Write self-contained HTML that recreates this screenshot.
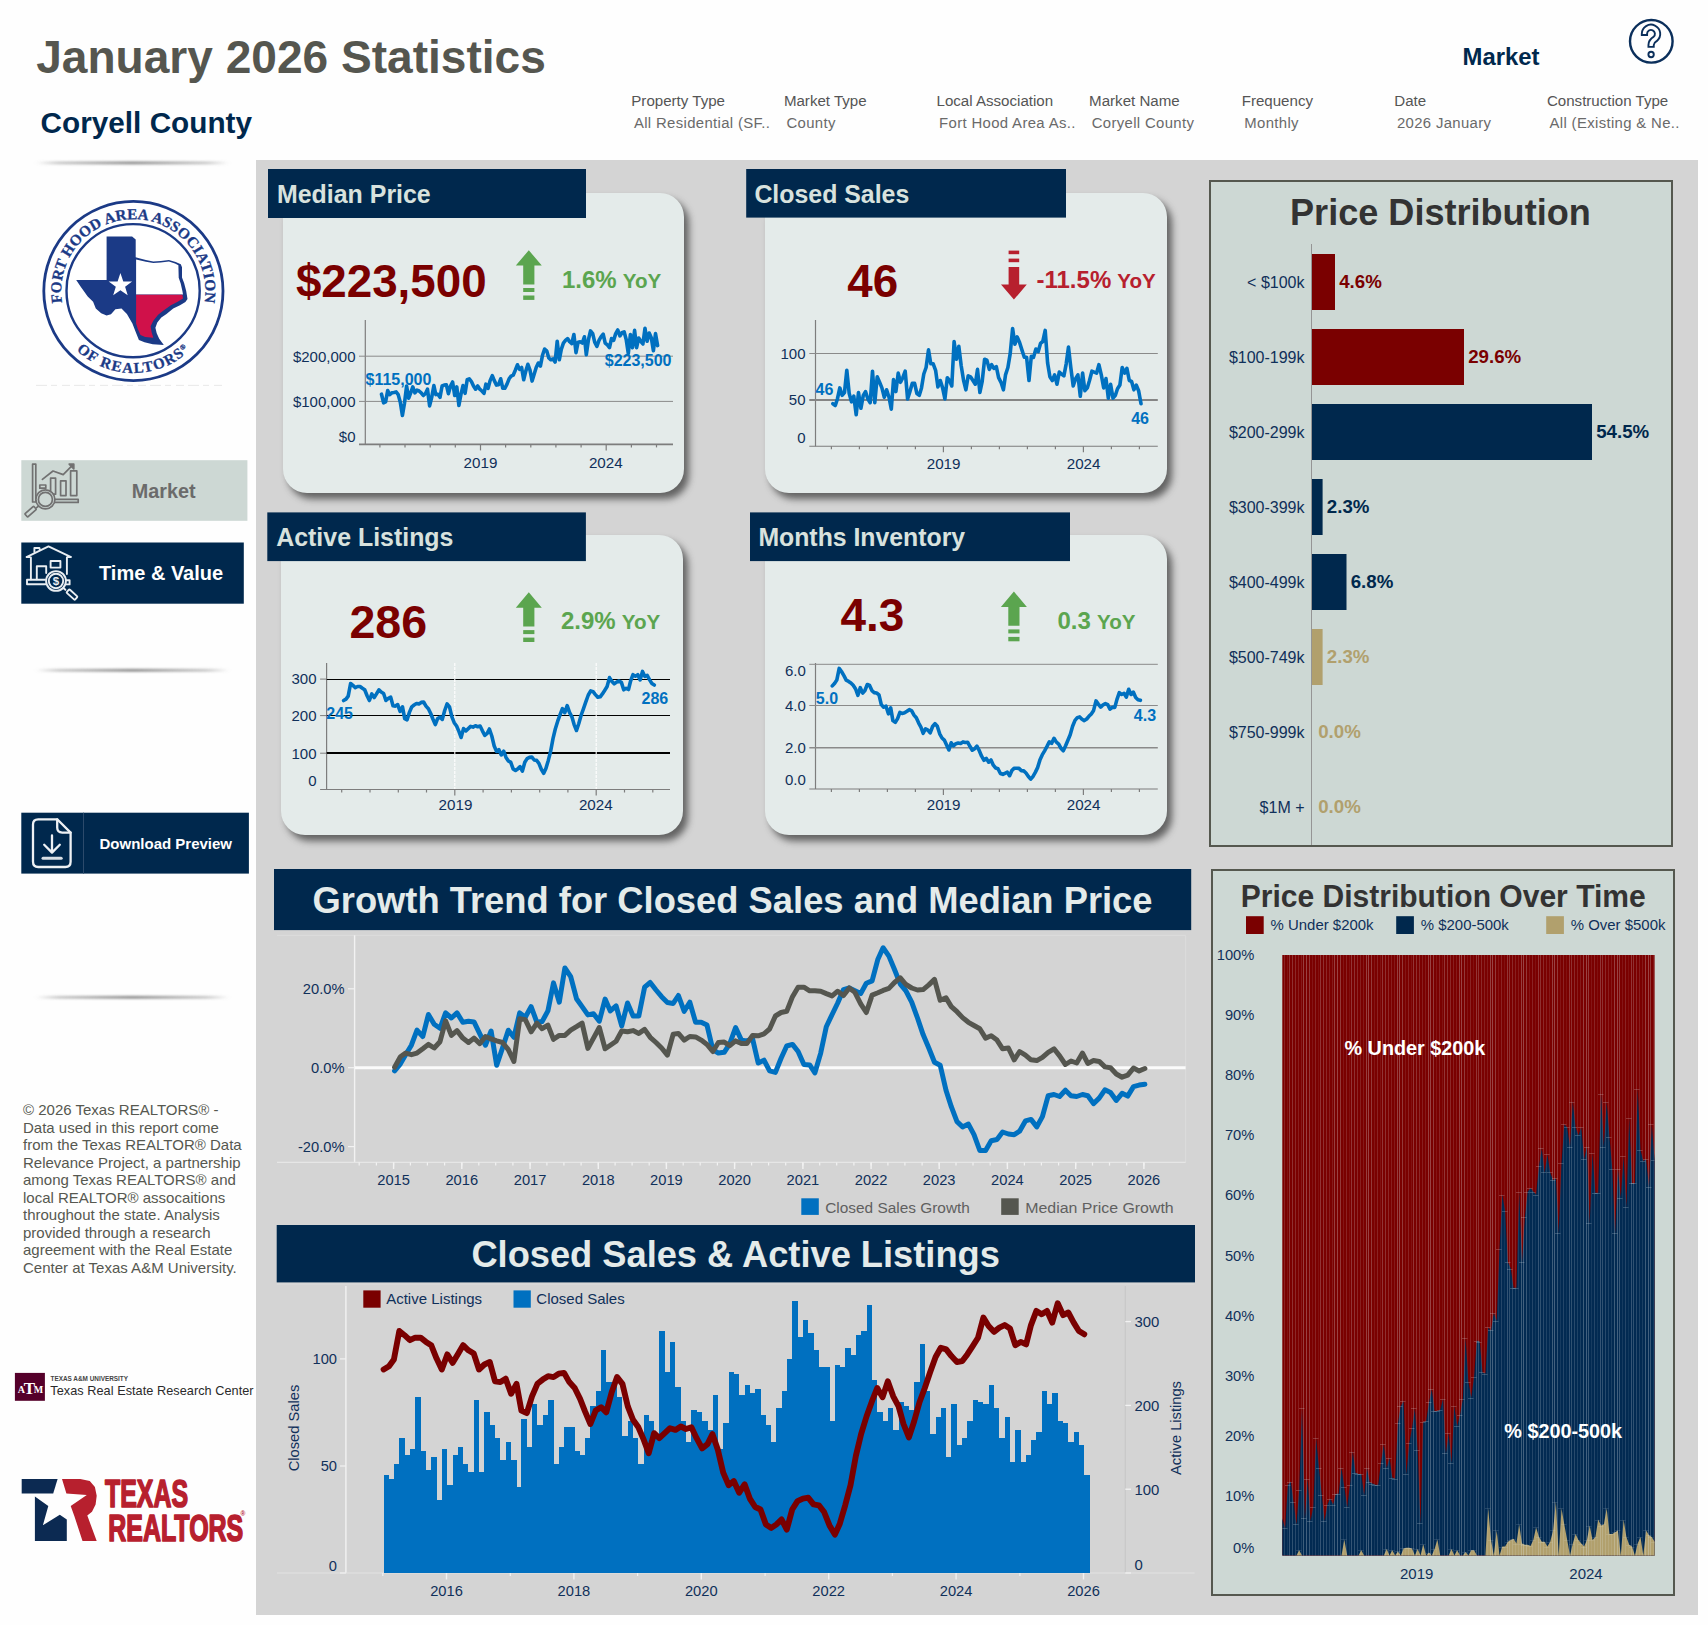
<!DOCTYPE html>
<html lang="en"><head><meta charset="utf-8"><title>January 2026 Statistics - Coryell County</title>
<style>
html,body{margin:0;padding:0;background:#fefefe;}
body{width:1708px;height:1625px;position:relative;overflow:hidden;font-family:"Liberation Sans",Arial,sans-serif;}
.abs{position:absolute;box-sizing:border-box;}
.bg{left:256px;top:160px;width:1442px;height:1455px;background:#d4d4d4;}
.card{background:#e4ebea;border-radius:24px;box-shadow:5px 6px 7px rgba(40,40,40,.66);}
.panel{background:#cdd8d4;border:2.5px solid #55584f;}
svg{position:absolute;left:0;top:0;}
svg text{font-family:"Liberation Sans",Arial,sans-serif;}
svg text.serif{font-family:"Liberation Serif","Times New Roman",serif;}
</style></head><body>
<div class="abs bg"></div>
<div class="abs card" style="left:283px;top:193px;width:401px;height:300px"></div>
<div class="abs card" style="left:765px;top:193px;width:402px;height:300px"></div>
<div class="abs card" style="left:281px;top:535px;width:402px;height:300px"></div>
<div class="abs card" style="left:765px;top:535px;width:402px;height:300px"></div>
<div class="abs panel" style="left:1209px;top:180px;width:464px;height:667px"></div>
<div class="abs panel" style="left:1211px;top:869px;width:464px;height:727px"></div>
<svg width="1708" height="1625" viewBox="0 0 1708 1625">
<defs><linearGradient id="sepg" x1="0" x2="1" y1="0" y2="0"><stop offset="0" stop-color="#8c8c8c" stop-opacity="0"/><stop offset="0.12" stop-color="#8c8c8c" stop-opacity="0.45"/><stop offset="0.5" stop-color="#8c8c8c" stop-opacity="0.95"/><stop offset="0.88" stop-color="#8c8c8c" stop-opacity="0.45"/><stop offset="1" stop-color="#8c8c8c" stop-opacity="0"/></linearGradient><filter id="sepb" x="-5%" y="-300%" width="110%" height="700%"><feGaussianBlur stdDeviation="2 1.3"/></filter></defs>
<text transform="translate(36.2,73.2) scale(0.987,1)" font-size="46.7" fill="#55564f" font-weight="bold" text-anchor="start" >January 2026 Statistics</text>
<text transform="translate(40.6,132.8) scale(1.008,1)" font-size="29.5" fill="#00284d" font-weight="bold" text-anchor="start" >Coryell County</text>
<text x="631.3" y="106.2" font-size="15.1" fill="#555">Property Type</text>
<text x="633.9" y="128.2" font-size="14.9" fill="#6a6a6a" letter-spacing="0.35">All Residential (SF..</text>
<text x="783.9" y="106.2" font-size="15.1" fill="#555">Market Type</text>
<text x="786.5" y="128.2" font-size="14.9" fill="#6a6a6a" letter-spacing="0.35">County</text>
<text x="936.5" y="106.2" font-size="15.1" fill="#555">Local Association</text>
<text x="939.1" y="128.2" font-size="14.9" fill="#6a6a6a" letter-spacing="0.35">Fort Hood Area As..</text>
<text x="1089.1" y="106.2" font-size="15.1" fill="#555">Market Name</text>
<text x="1091.7" y="128.2" font-size="14.9" fill="#6a6a6a" letter-spacing="0.35">Coryell County</text>
<text x="1241.7" y="106.2" font-size="15.1" fill="#555">Frequency</text>
<text x="1244.3" y="128.2" font-size="14.9" fill="#6a6a6a" letter-spacing="0.35">Monthly</text>
<text x="1394.3" y="106.2" font-size="15.1" fill="#555">Date</text>
<text x="1396.9" y="128.2" font-size="14.9" fill="#6a6a6a" letter-spacing="0.35">2026 January</text>
<text x="1546.9" y="106.2" font-size="15.1" fill="#555">Construction Type</text>
<text x="1549.5" y="128.2" font-size="14.9" fill="#6a6a6a" letter-spacing="0.35">All (Existing &amp; Ne..</text>
<text transform="translate(1462.5,65.3) scale(0.995,1)" font-size="24" fill="#00284d" font-weight="bold" text-anchor="start" >Market</text>
<circle cx="1651.3" cy="41.3" r="21.3" fill="none" stroke="#0b2f5b" stroke-width="2.4"/>
<path d="M1644.45 36 V33.85 A6.56 6.56 0 1 1 1655.2 38.9 Q1651.1 41.4 1651.1 45 V47.8" fill="none" stroke="#0b2f5b" stroke-width="7.2" stroke-linejoin="round"/>
<path d="M1644.45 34.1 V33.85 A6.56 6.56 0 1 1 1655.2 38.9 Q1651.1 41.4 1651.1 45 V45.9" fill="none" stroke="#fefefe" stroke-width="3.4" stroke-linejoin="round"/>
<circle cx="1651.1" cy="54.5" r="2.7" fill="none" stroke="#0b2f5b" stroke-width="1.9"/>
<rect x="36" y="161.4" width="193" height="3" fill="url(#sepg)" filter="url(#sepb)"/>
<rect x="36" y="668.8" width="193" height="3" fill="url(#sepg)" filter="url(#sepb)"/>
<rect x="36" y="995.8" width="193" height="3" fill="url(#sepg)" filter="url(#sepb)"/>
<circle cx="133.4" cy="291" r="89.6" fill="#fff" stroke="#1b3a86" stroke-width="2.8"/>
<circle cx="133.1" cy="290.7" r="66.6" fill="none" stroke="#1b3a86" stroke-width="2.4"/>
<defs><path id="arcTop" d="M 63.7 309.6 A 72 72 0 1 1 202.9 309.6"/><path id="arcBot" d="M 62.4 332 A 82 82 0 0 0 204.4 332"/></defs>
<text class="serif" font-weight="bold" font-size="15.2" fill="#1b3a86" stroke="#1b3a86" stroke-width="0.3" letter-spacing="0.15"><textPath href="#arcTop" startOffset="50%" text-anchor="middle">FORT HOOD AREA ASSOCIATION</textPath></text>
<text class="serif" font-weight="bold" font-size="15" fill="#1b3a86" stroke="#1b3a86" stroke-width="0.3" letter-spacing="1.3"><textPath href="#arcBot" startOffset="50%" text-anchor="middle">OF REALTORS<tspan font-size="7" dy="-5">®</tspan></textPath></text>
<polygon points="106.6,236.6 132.1,236.6 135.7,239.6 135.7,257.2 139.1,258.2 145.9,260.1 153.3,261.5 160.8,261.0 168.9,259.9 175.7,261.9 180.8,264.2 182.0,267.3 182.0,277.5 184.1,282.9 186.2,291.0 187.5,299.1 185.4,302.1 180.0,305.2 173.2,308.6 166.5,314.0 161.3,317.4 157.3,322.4 155.4,327.8 156.7,333.2 159.2,338.7 163.8,344.9 152.7,344.3 144.5,342.2 138.9,340.0 136.1,333.0 132.4,323.5 126.9,314.0 121.5,308.6 115.4,309.3 111.0,314.3 106.6,315.6 101.2,313.3 95.8,308.6 93.1,301.8 87.7,296.4 80.9,286.9 76.2,279.9 106.6,279.9" fill="#1b3a86"/>
<polygon points="136.1,259.6 145.9,261.8 153.3,263.1 160.8,262.6 168.9,261.6 175.0,263.4 178.4,265.3 178.7,277.7 180.7,283.6 182.4,291.0 183.0,294.4 136.1,294.4" fill="#fff"/>
<polygon points="136.1,294.7 182.4,294.7 183.0,298.6 177.7,301.8 170.9,305.2 163.5,310.6 158.1,314.7 153.3,320.8 150.6,326.2 151.6,332.3 153.3,337.7 145.2,337.0 140.5,335.0 137.8,328.9 136.1,323.5" fill="#d0114a"/>
<polygon points="120.4,273.0 123.3,281.4 132.1,281.5 125.1,286.8 127.7,295.3 120.4,290.2 113.2,295.3 115.8,286.8 108.7,281.5 117.6,281.4" fill="#fff"/>
<line x1="36.0" y1="385.4" x2="225.0" y2="385.4" stroke="#e3e3e3" stroke-width="0.8" stroke-dasharray="11 4 6 5 8 4"/>
<rect x="21.3" y="460.2" width="226.1" height="60.6" fill="#cdd8d4" />
<text transform="translate(131.8,497.6) scale(0.99,1)" font-size="20" fill="#6b6b6b" font-weight="bold" text-anchor="start" >Market</text>
<g fill="none" stroke="#717171" stroke-width="1.7" stroke-linejoin="round" stroke-linecap="round">
<rect x="32.6" y="464.2" width="3.2" height="37.8"/>
<path d="M54 499.4 H78.2 V502.4 H54"/>
<rect x="39.8" y="485" width="6" height="3.2"/>
<rect x="50.6" y="478.2" width="5" height="16"/>
<rect x="60.6" y="480.8" width="5.4" height="14.8"/>
<rect x="70.6" y="470.8" width="6.2" height="24.8"/>
<path d="M42.4 479.4 L53 471 L63.2 474.6 L72.6 465.2"/>
<path d="M69.2 464.2 H73.8 V468.8 Z" fill="#717171"/>
<circle cx="45.4" cy="499.4" r="9.5" fill="#cdd8d4"/><circle cx="45.4" cy="499.4" r="7"/>
<path d="M38.6 506 L36.6 507.6"/>
<rect x="-5.9" y="-2.1" width="11.8" height="4.2" rx="0.8" transform="translate(30.6,511.6) rotate(-41)"/>
</g>
<rect x="21.3" y="542.5" width="222.5" height="61.2" fill="#00284d" />
<text x="99.0" y="579.9" font-size="20" fill="#fff" font-weight="bold" text-anchor="start" >Time &amp; Value</text>
<g fill="none" stroke="#e9eef2" stroke-width="1.9" stroke-linejoin="round" stroke-linecap="round">
<path d="M27 556.8 L48.5 546.4 L70.6 556.8"/>
<path d="M26.6 557 H29.6 M67.6 557 H70.8"/>
<path d="M34.4 552 V548 H39.4 L39.8 549.6"/>
<path d="M30.9 557.4 V579.4 M66.9 557.4 V574"/>
<path d="M45 579.8 H27 V584.2 H45.6"/>
<path d="M36.8 579.2 V566.2 H46.2 V573"/>
<rect x="50.6" y="561" width="9.8" height="6.6"/>
<path d="M66.6 580.2 H69.6 V584.4 H66.4"/>
<circle cx="56" cy="581" r="9.9" fill="#00284d"/><circle cx="56" cy="581" r="7.2"/>
<path d="M63.4 588 L65.4 589.8"/>
<rect x="-5.6" y="-2.2" width="11.2" height="4.4" rx="0.9" transform="translate(72,594.6) rotate(42)"/>
</g>
<text x="56.0" y="585.2" font-size="11.5" fill="#e9eef2" font-weight="bold" text-anchor="middle" >$</text>
<rect x="21.3" y="812.7" width="227.6" height="60.9" fill="#00284d" />
<line x1="83.5" y1="812.7" x2="83.5" y2="873.6" stroke="#2c4a6b" stroke-width="1" />
<text x="99.5" y="848.8" font-size="15" fill="#fff" font-weight="bold" text-anchor="start" >Download Preview</text>
<g fill="none" stroke="#eef1f4" stroke-width="2.3" stroke-linejoin="round" stroke-linecap="round">
<path d="M57.2 819.3 H38.2 Q33 819.3 33 824.5 V861.8 Q33 867 38.2 867 H65.4 Q70.6 867 70.6 861.8 V832.6 Z"/>
<path d="M57.2 819.3 V827.6 Q57.2 832.6 62.2 832.6 H70.6"/>
<path d="M52 835.4 V852.4 M44.2 844.8 L52 852.6 L59.8 844.8"/>
</g>
<line x1="43.0" y1="858.2" x2="61.2" y2="858.2" stroke="#d9dfe5" stroke-width="3" stroke-linecap="round"/>
<text x="23.0" y="1115.0" font-size="15" fill="#565850" font-weight="normal" text-anchor="start" >© 2026 Texas REALTORS® -</text>
<text x="23.0" y="1132.5" font-size="15" fill="#565850" font-weight="normal" text-anchor="start" >Data used in this report come</text>
<text x="23.0" y="1150.1" font-size="15" fill="#565850" font-weight="normal" text-anchor="start" >from the Texas REALTOR® Data</text>
<text x="23.0" y="1167.7" font-size="15" fill="#565850" font-weight="normal" text-anchor="start" >Relevance Project, a partnership</text>
<text x="23.0" y="1185.2" font-size="15" fill="#565850" font-weight="normal" text-anchor="start" >among Texas REALTORS® and</text>
<text x="23.0" y="1202.8" font-size="15" fill="#565850" font-weight="normal" text-anchor="start" >local REALTOR® assocaitions</text>
<text x="23.0" y="1220.3" font-size="15" fill="#565850" font-weight="normal" text-anchor="start" >throughout the state. Analysis</text>
<text x="23.0" y="1237.8" font-size="15" fill="#565850" font-weight="normal" text-anchor="start" >provided through a research</text>
<text x="23.0" y="1255.4" font-size="15" fill="#565850" font-weight="normal" text-anchor="start" >agreement with the Real Estate</text>
<text x="23.0" y="1273.0" font-size="15" fill="#565850" font-weight="normal" text-anchor="start" >Center at Texas A&amp;M University.</text>
<rect x="14.9" y="1372.9" width="30.0" height="27.9" fill="#55002a" />
<text x="29.9" y="1392.6" class="serif" font-weight="bold" font-size="15" fill="#fff" text-anchor="middle" letter-spacing="-1.2"><tspan font-size="10">A</tspan><tspan font-size="17" dy="1">T</tspan><tspan font-size="10" dy="-1">M</tspan></text>
<text x="50.5" y="1380.5" font-size="6.4" fill="#444" font-weight="bold" text-anchor="start" >TEXAS A&amp;M UNIVERSITY</text>
<text x="50.3" y="1394.8" font-size="12.7" fill="#2a2a2a" font-weight="normal" text-anchor="start" letter-spacing="0.05">Texas Real Estate Research Center</text>
<polygon points="21.7,1478.9 57.6,1478.9 53.2,1493.5 21.7,1493.5" fill="#0c2a52"/>
<polygon points="34.9,1496.5 48.3,1506.0 42.9,1525.3 59.8,1514.8 66.8,1519.4 66.8,1541.1 34.9,1541.1" fill="#0c2a52"/>
<polygon points="62.0,1478.9 80.3,1478.9 89.8,1481.1 94.9,1487.0 96.7,1495.7 95.6,1504.5 92.0,1511.8 87.3,1515.5 96.7,1541.1 82.5,1541.1 74.4,1516.2 70.7,1506.0 86.8,1495.0 66.4,1493.5" fill="#b7202e"/>
<text transform="translate(105,1506.8) scale(0.652,1)" font-size="38.2" font-weight="bold" fill="#b7202e" stroke="#b7202e" stroke-width="1.7" stroke-linejoin="round">TEXAS</text>
<text transform="translate(108.2,1540.6) scale(0.668,1)" font-size="37.4" font-weight="bold" fill="#b7202e" stroke="#b7202e" stroke-width="1.7" stroke-linejoin="round">REALTORS</text>
<text x="240.6" y="1515.6" font-size="6.5" font-weight="bold" fill="#b7202e">®</text>
<rect x="268.0" y="169.0" width="318.0" height="49.0" fill="#00284d" />
<text transform="translate(277.0,203.2) scale(0.985,1)" font-size="25.3" fill="#d8e2de" font-weight="bold" text-anchor="start" >Median Price</text>
<text transform="translate(295.9,297.4) scale(0.973,1)" font-size="47" fill="#7a0000" font-weight="bold" text-anchor="start" >$223,500</text>
<path d="M528.8 250.2 l13 15.4 h-7.4 v18.8 h-11.2 v-18.8 h-7.4 z" fill="#5ba54f"/>
<rect x="523.2" y="288.0" width="11.2" height="4.0" fill="#5ba54f" />
<rect x="523.2" y="295.5" width="11.2" height="4.4" fill="#5ba54f" />
<text x="562" y="288" font-size="24" fill="#5ba54f" font-weight="bold">1.6% <tspan font-size="20.6" dx="-0.6">YoY</tspan></text>
<line x1="365.3" y1="320.0" x2="365.3" y2="444.4" stroke="#7d7d7d" stroke-width="1.2" />
<line x1="359.0" y1="444.4" x2="673.0" y2="444.4" stroke="#7d7d7d" stroke-width="1.6" />
<line x1="359.0" y1="356.2" x2="673.0" y2="356.2" stroke="#8a8a8a" stroke-width="1" />
<line x1="359.0" y1="401.4" x2="673.0" y2="401.4" stroke="#8a8a8a" stroke-width="1" />
<text x="355.5" y="361.5" font-size="15" fill="#10305a" font-weight="normal" text-anchor="end" >$200,000</text>
<text x="355.5" y="406.7" font-size="15" fill="#10305a" font-weight="normal" text-anchor="end" >$100,000</text>
<text x="355.5" y="441.8" font-size="15" fill="#10305a" font-weight="normal" text-anchor="end" >$0</text>
<line x1="379.9" y1="444.4" x2="379.9" y2="447.4" stroke="#7d7d7d" stroke-width="1.2" />
<line x1="405.0" y1="444.4" x2="405.0" y2="447.4" stroke="#7d7d7d" stroke-width="1.2" />
<line x1="430.2" y1="444.4" x2="430.2" y2="447.4" stroke="#7d7d7d" stroke-width="1.2" />
<line x1="455.3" y1="444.4" x2="455.3" y2="447.4" stroke="#7d7d7d" stroke-width="1.2" />
<line x1="480.5" y1="444.4" x2="480.5" y2="450.4" stroke="#7d7d7d" stroke-width="1.2" />
<line x1="505.6" y1="444.4" x2="505.6" y2="447.4" stroke="#7d7d7d" stroke-width="1.2" />
<line x1="530.8" y1="444.4" x2="530.8" y2="447.4" stroke="#7d7d7d" stroke-width="1.2" />
<line x1="555.9" y1="444.4" x2="555.9" y2="447.4" stroke="#7d7d7d" stroke-width="1.2" />
<line x1="581.1" y1="444.4" x2="581.1" y2="447.4" stroke="#7d7d7d" stroke-width="1.2" />
<line x1="606.2" y1="444.4" x2="606.2" y2="450.4" stroke="#7d7d7d" stroke-width="1.2" />
<line x1="631.4" y1="444.4" x2="631.4" y2="447.4" stroke="#7d7d7d" stroke-width="1.2" />
<line x1="656.5" y1="444.4" x2="656.5" y2="447.4" stroke="#7d7d7d" stroke-width="1.2" />
<text x="480.5" y="468.2" font-size="15.2" fill="#10305a" font-weight="normal" text-anchor="middle" >2019</text>
<text x="605.8" y="468.4" font-size="15.2" fill="#10305a" font-weight="normal" text-anchor="middle" >2024</text>
<text x="365.5" y="385.0" font-size="16" fill="#0070c0" font-weight="bold" text-anchor="start" >$115,000</text>
<text x="671.5" y="366.0" font-size="16" fill="#0070c0" font-weight="bold" text-anchor="end" >$223,500</text>
<polyline points="381.5,394.2 383.6,402.8 385.6,401.9 387.7,390.6 389.7,394.6 391.9,392.8 393.9,392.4 396.1,391.9 398.2,394.6 400.3,402.3 402.4,415.4 404.5,403.2 406.6,386.0 408.7,398.2 410.7,392.8 412.8,386.9 414.9,392.8 417.0,390.1 419.1,391.0 421.2,392.8 423.3,395.5 425.4,393.7 427.5,389.2 429.6,405.9 431.7,397.3 433.9,385.6 435.8,394.6 437.9,394.2 440.0,397.3 442.1,386.0 444.2,385.1 446.3,384.7 448.4,393.7 450.5,386.0 452.6,382.0 454.7,395.5 456.8,386.9 458.9,405.5 460.9,394.6 463.0,385.6 465.1,393.3 467.2,379.7 469.3,378.8 471.4,381.5 473.5,386.0 475.6,389.2 477.7,386.0 479.8,389.2 481.9,391.0 484.0,393.3 485.9,384.2 488.1,388.3 490.1,380.6 492.3,375.6 494.3,380.6 496.5,385.1 498.6,384.7 500.7,378.8 502.8,388.3 504.8,388.3 507.0,384.2 509.1,378.8 511.1,376.1 513.2,375.2 515.3,370.2 517.4,364.8 519.5,369.3 521.6,367.5 523.7,379.7 525.8,371.1 527.9,364.3 530.0,370.2 532.1,381.1 534.3,373.8 536.2,367.5 538.3,363.0 540.4,366.1 542.5,355.3 544.6,349.0 546.7,350.8 548.8,358.0 550.9,359.8 553.0,358.9 555.1,362.1 557.2,341.3 559.3,359.8 561.3,349.4 563.4,343.1 565.5,340.4 567.6,338.6 569.6,341.7 571.8,343.5 573.9,334.5 576.0,352.6 578.1,342.2 580.2,341.7 582.3,343.1 584.4,336.8 586.3,354.8 588.5,339.5 590.5,330.9 592.7,333.6 594.7,342.2 596.9,346.3 599.0,340.4 601.0,336.8 603.2,334.1 605.2,343.1 607.4,344.9 609.5,347.6 611.5,338.6 613.6,340.4 615.7,333.6 617.8,330.0 619.9,335.9 622.0,332.7 624.1,331.8 626.2,339.5 628.3,353.5 630.4,334.5 632.5,347.6 634.6,330.4 636.6,347.6 638.7,338.1 640.8,341.3 642.9,344.0 645.0,328.2 647.1,341.3 649.2,333.1 651.3,337.7 653.4,350.8 655.5,333.6 657.6,345.6" fill="none" stroke="#0070c0" stroke-width="3.6" stroke-linejoin="round" stroke-linecap="round" />
<rect x="746.2" y="169.0" width="319.8" height="48.6" fill="#00284d" />
<text transform="translate(754.4,203.2) scale(0.984,1)" font-size="25.3" fill="#d8e2de" font-weight="bold" text-anchor="start" >Closed Sales</text>
<text transform="translate(847.2,297.4) scale(0.973,1)" font-size="47" fill="#7a0000" font-weight="bold" text-anchor="start" >46</text>
<rect x="1008.6" y="250.6" width="10.6" height="3.6" fill="#b7202e" />
<rect x="1008.6" y="258.6" width="10.6" height="3.6" fill="#b7202e" />
<path d="M1008.6 267.0 h10.6 v17.4 h7.6 l-12.9 15.2 l-12.9 -15.2 h7.6 z" fill="#b7202e"/>
<text x="1036.5" y="288" font-size="24" fill="#b7202e" font-weight="bold">-11.5% <tspan font-size="20.6" dx="-0.6">YoY</tspan></text>
<line x1="815.5" y1="320.0" x2="815.5" y2="446.3" stroke="#7d7d7d" stroke-width="1.2" />
<line x1="809.3" y1="446.3" x2="1157.8" y2="446.3" stroke="#7d7d7d" stroke-width="1.1" />
<line x1="809.3" y1="353.5" x2="1157.8" y2="353.5" stroke="#8a8a8a" stroke-width="1" />
<line x1="809.3" y1="400.0" x2="1157.8" y2="400.0" stroke="#858585" stroke-width="2" />
<text x="805.5" y="358.7" font-size="15" fill="#10305a" font-weight="normal" text-anchor="end" >100</text>
<text x="805.5" y="405.0" font-size="15" fill="#10305a" font-weight="normal" text-anchor="end" >50</text>
<text x="805.5" y="442.8" font-size="15" fill="#10305a" font-weight="normal" text-anchor="end" >0</text>
<line x1="831.4" y1="446.3" x2="831.4" y2="449.3" stroke="#7d7d7d" stroke-width="1.2" />
<line x1="859.4" y1="446.3" x2="859.4" y2="449.3" stroke="#7d7d7d" stroke-width="1.2" />
<line x1="887.4" y1="446.3" x2="887.4" y2="449.3" stroke="#7d7d7d" stroke-width="1.2" />
<line x1="915.4" y1="446.3" x2="915.4" y2="449.3" stroke="#7d7d7d" stroke-width="1.2" />
<line x1="943.4" y1="446.3" x2="943.4" y2="452.3" stroke="#7d7d7d" stroke-width="1.2" />
<line x1="971.4" y1="446.3" x2="971.4" y2="449.3" stroke="#7d7d7d" stroke-width="1.2" />
<line x1="999.4" y1="446.3" x2="999.4" y2="449.3" stroke="#7d7d7d" stroke-width="1.2" />
<line x1="1027.4" y1="446.3" x2="1027.4" y2="449.3" stroke="#7d7d7d" stroke-width="1.2" />
<line x1="1055.4" y1="446.3" x2="1055.4" y2="449.3" stroke="#7d7d7d" stroke-width="1.2" />
<line x1="1083.4" y1="446.3" x2="1083.4" y2="452.3" stroke="#7d7d7d" stroke-width="1.2" />
<line x1="1111.4" y1="446.3" x2="1111.4" y2="449.3" stroke="#7d7d7d" stroke-width="1.2" />
<line x1="1139.4" y1="446.3" x2="1139.4" y2="449.3" stroke="#7d7d7d" stroke-width="1.2" />
<text x="943.6" y="469.2" font-size="15.2" fill="#10305a" font-weight="normal" text-anchor="middle" >2019</text>
<text x="1083.6" y="469.2" font-size="15.2" fill="#10305a" font-weight="normal" text-anchor="middle" >2024</text>
<text x="815.5" y="394.5" font-size="16" fill="#0070c0" font-weight="bold" text-anchor="start" >46</text>
<text x="1131.2" y="423.6" font-size="16" fill="#0070c0" font-weight="bold" text-anchor="start" >46</text>
<polyline points="832.9,403.7 835.3,405.5 837.4,399.0 839.8,387.9 842.1,395.3 844.5,392.5 846.8,370.3 849.2,393.5 851.5,401.8 853.8,396.2 856.2,414.8 858.5,392.5 860.9,408.3 863.3,395.3 865.5,391.6 867.9,399.0 870.2,402.7 872.5,371.2 874.8,402.7 877.2,376.8 879.6,382.3 881.9,387.9 884.3,397.2 886.6,389.8 889.0,397.2 891.3,409.2 893.5,379.6 895.9,391.6 898.2,373.1 900.5,382.3 902.8,377.7 905.2,371.2 907.6,399.0 909.9,391.6 912.3,383.3 914.6,383.3 916.9,393.5 919.3,395.3 921.5,387.9 923.8,374.0 926.1,367.5 928.5,349.9 930.8,363.8 933.2,363.8 935.6,370.3 937.9,387.0 940.3,380.5 942.6,387.9 944.9,399.0 947.3,377.7 949.5,380.5 951.8,386.0 954.1,341.5 956.5,359.2 958.8,346.2 961.2,365.7 963.6,380.5 965.9,389.8 968.2,375.8 970.5,376.8 972.9,380.5 975.3,384.2 977.5,369.4 979.9,392.5 982.2,381.4 984.6,359.2 986.9,360.1 989.3,369.4 991.6,364.7 993.9,368.4 996.3,366.6 998.6,377.7 1001.0,382.3 1003.4,389.8 1005.5,374.9 1007.9,367.5 1010.2,353.6 1012.6,328.6 1014.9,344.3 1017.2,336.9 1019.6,342.5 1021.9,349.9 1024.3,357.3 1026.6,357.3 1029.0,380.5 1031.3,356.4 1033.5,357.3 1035.9,349.0 1038.2,351.7 1040.5,343.4 1042.8,341.5 1045.2,330.4 1047.6,362.9 1049.9,376.8 1052.3,380.5 1054.6,374.9 1057.0,384.2 1059.3,372.1 1061.5,374.0 1063.9,375.8 1066.2,363.8 1068.5,347.1 1070.8,367.5 1073.2,386.0 1075.6,378.6 1077.9,374.9 1080.3,396.2 1082.6,373.1 1084.9,390.7 1087.3,387.9 1089.5,380.5 1091.9,371.2 1094.2,372.1 1096.6,373.1 1098.9,364.7 1101.3,374.9 1103.7,387.9 1106.0,378.6 1108.3,398.1 1110.6,384.2 1113.0,398.1 1115.4,395.3 1117.5,388.8 1119.9,385.1 1122.2,367.5 1124.6,373.1 1126.9,368.4 1129.3,380.5 1131.6,381.4 1133.9,389.8 1136.3,385.1 1138.6,390.7 1141.0,403.7" fill="none" stroke="#0070c0" stroke-width="3.6" stroke-linejoin="round" stroke-linecap="round" />
<rect x="267.3" y="512.4" width="318.6" height="48.7" fill="#00284d" />
<text transform="translate(276.2,546.4) scale(0.985,1)" font-size="25.3" fill="#d8e2de" font-weight="bold" text-anchor="start" >Active Listings</text>
<text transform="translate(349.5,638.0) scale(0.99,1)" font-size="47" fill="#7a0000" font-weight="bold" text-anchor="start" >286</text>
<path d="M528.8 592.3 l13 15.4 h-7.4 v18.8 h-11.2 v-18.8 h-7.4 z" fill="#5ba54f"/>
<rect x="523.2" y="630.1" width="11.2" height="4.0" fill="#5ba54f" />
<rect x="523.2" y="637.6" width="11.2" height="4.4" fill="#5ba54f" />
<text x="561" y="629.4" font-size="24" fill="#5ba54f" font-weight="bold">2.9% <tspan font-size="20.6" dx="-0.6">YoY</tspan></text>
<line x1="326.6" y1="662.9" x2="326.6" y2="789.5" stroke="#7d7d7d" stroke-width="1.2" />
<line x1="320.1" y1="789.5" x2="670.0" y2="789.5" stroke="#7d7d7d" stroke-width="1.2" />
<line x1="326.6" y1="679.5" x2="670.0" y2="679.5" stroke="#000" stroke-width="1" />
<line x1="320.1" y1="679.1" x2="326.6" y2="679.1" stroke="#7d7d7d" stroke-width="1" />
<line x1="326.6" y1="715.5" x2="670.0" y2="715.5" stroke="#000" stroke-width="1" />
<line x1="320.1" y1="715.6" x2="326.6" y2="715.6" stroke="#7d7d7d" stroke-width="1" />
<line x1="326.6" y1="753.0" x2="670.0" y2="753.0" stroke="#000" stroke-width="2" />
<line x1="320.1" y1="753.2" x2="326.6" y2="753.2" stroke="#7d7d7d" stroke-width="1" />
<line x1="454.8" y1="663.0" x2="454.8" y2="789.0" stroke="#ffffff" stroke-width="1.1" stroke-dasharray="3 1"/>
<line x1="596.2" y1="663.0" x2="596.2" y2="789.0" stroke="#ffffff" stroke-width="1.1" stroke-dasharray="3 1"/>
<text x="316.5" y="684.4" font-size="15" fill="#10305a" font-weight="normal" text-anchor="end" >300</text>
<text x="316.5" y="720.9" font-size="15" fill="#10305a" font-weight="normal" text-anchor="end" >200</text>
<text x="316.5" y="758.5" font-size="15" fill="#10305a" font-weight="normal" text-anchor="end" >100</text>
<text x="316.5" y="785.8" font-size="15" fill="#10305a" font-weight="normal" text-anchor="end" >0</text>
<line x1="341.7" y1="789.5" x2="341.7" y2="792.5" stroke="#7d7d7d" stroke-width="1.2" />
<line x1="370.0" y1="789.5" x2="370.0" y2="792.5" stroke="#7d7d7d" stroke-width="1.2" />
<line x1="398.3" y1="789.5" x2="398.3" y2="792.5" stroke="#7d7d7d" stroke-width="1.2" />
<line x1="426.5" y1="789.5" x2="426.5" y2="792.5" stroke="#7d7d7d" stroke-width="1.2" />
<line x1="454.8" y1="789.5" x2="454.8" y2="795.5" stroke="#7d7d7d" stroke-width="1.2" />
<line x1="483.1" y1="789.5" x2="483.1" y2="792.5" stroke="#7d7d7d" stroke-width="1.2" />
<line x1="511.4" y1="789.5" x2="511.4" y2="792.5" stroke="#7d7d7d" stroke-width="1.2" />
<line x1="539.7" y1="789.5" x2="539.7" y2="792.5" stroke="#7d7d7d" stroke-width="1.2" />
<line x1="567.9" y1="789.5" x2="567.9" y2="792.5" stroke="#7d7d7d" stroke-width="1.2" />
<line x1="596.2" y1="789.5" x2="596.2" y2="795.5" stroke="#7d7d7d" stroke-width="1.2" />
<line x1="624.5" y1="789.5" x2="624.5" y2="792.5" stroke="#7d7d7d" stroke-width="1.2" />
<line x1="652.8" y1="789.5" x2="652.8" y2="792.5" stroke="#7d7d7d" stroke-width="1.2" />
<text x="455.5" y="810.4" font-size="15.2" fill="#10305a" font-weight="normal" text-anchor="middle" >2019</text>
<text x="595.8" y="810.4" font-size="15.2" fill="#10305a" font-weight="normal" text-anchor="middle" >2024</text>
<text x="326.3" y="718.8" font-size="16" fill="#0070c0" font-weight="bold" text-anchor="start" >245</text>
<text x="641.5" y="703.5" font-size="16" fill="#0070c0" font-weight="bold" text-anchor="start" >286</text>
<polyline points="343.6,700.5 346.0,699.1 348.2,696.1 350.6,683.5 352.9,685.4 355.3,687.6 357.6,686.5 360.0,686.5 362.4,688.3 364.7,689.8 367.1,695.7 369.4,700.5 371.8,693.9 374.2,697.6 376.5,693.9 378.9,689.8 381.2,692.0 383.6,693.5 385.9,700.5 388.3,698.3 390.7,697.2 393.0,705.7 395.4,706.1 397.7,704.6 400.1,711.3 402.5,706.8 404.7,718.6 407.1,719.8 409.4,712.4 411.8,706.8 414.1,705.0 416.5,703.5 418.9,703.9 421.2,702.4 423.6,702.0 426.0,706.1 428.4,708.7 430.7,713.5 432.9,719.0 435.3,724.6 437.6,718.6 440.0,717.2 442.3,719.4 444.7,710.5 447.1,703.9 449.5,706.8 451.9,716.8 454.2,722.7 456.6,726.0 459.0,731.6 461.1,737.5 463.5,728.6 465.9,730.8 468.3,728.6 470.6,726.4 473.0,727.1 475.4,725.7 477.7,726.8 480.1,726.0 482.4,730.8 484.8,735.3 487.2,733.4 489.4,729.0 491.8,736.0 494.2,746.0 496.6,751.5 498.9,749.7 501.3,754.9 503.7,751.2 506.0,757.4 508.4,761.1 510.7,762.2 513.1,768.9 515.5,770.4 517.7,768.9 520.1,766.7 522.4,771.1 524.8,762.2 527.1,758.6 529.5,757.4 531.9,757.1 534.2,760.0 536.6,760.4 538.9,763.4 541.3,769.3 543.7,773.3 545.9,768.5 548.3,760.4 550.6,751.5 553.0,738.6 555.3,729.0 557.7,721.2 560.1,714.6 562.4,708.7 564.8,712.7 567.2,705.7 569.5,712.4 571.9,716.8 574.1,724.6 576.5,730.5 578.8,723.5 581.2,715.0 583.5,708.7 585.9,701.7 588.3,695.0 590.7,690.9 593.1,691.7 595.4,694.6 597.8,697.2 600.2,696.8 602.4,693.9 604.8,690.2 607.1,686.5 609.5,677.6 611.8,681.3 614.2,683.9 616.6,682.1 619.0,681.0 621.4,682.4 623.7,689.8 626.1,688.3 628.5,689.5 630.6,681.0 633.0,674.7 635.4,676.2 637.8,674.7 640.1,679.9 642.5,671.4 644.9,676.5 647.2,675.4 649.6,679.9 651.9,683.5 654.3,685.0" fill="none" stroke="#0070c0" stroke-width="3.6" stroke-linejoin="round" stroke-linecap="round" />
<rect x="750.0" y="512.4" width="320.0" height="48.7" fill="#00284d" />
<text transform="translate(758.4,546.4) scale(0.981,1)" font-size="25.3" fill="#d8e2de" font-weight="bold" text-anchor="start" >Months Inventory</text>
<text transform="translate(840.5,631.3) scale(0.977,1)" font-size="47" fill="#7a0000" font-weight="bold" text-anchor="start" >4.3</text>
<path d="M1013.9 591.6 l13 15.4 h-7.4 v18.8 h-11.2 v-18.8 h-7.4 z" fill="#5ba54f"/>
<rect x="1008.3" y="629.4" width="11.2" height="4.0" fill="#5ba54f" />
<rect x="1008.3" y="636.9" width="11.2" height="4.4" fill="#5ba54f" />
<text x="1057.5" y="628.8" font-size="24" fill="#5ba54f" font-weight="bold">0.3 <tspan font-size="20.6" dx="-0.6">YoY</tspan></text>
<line x1="815.5" y1="663.0" x2="815.5" y2="789.0" stroke="#7d7d7d" stroke-width="1.2" />
<line x1="809.3" y1="789.0" x2="1157.8" y2="789.0" stroke="#7d7d7d" stroke-width="1.2" />
<line x1="809.3" y1="664.3" x2="1157.8" y2="664.3" stroke="#8a8a8a" stroke-width="1" />
<line x1="809.3" y1="705.5" x2="1157.8" y2="705.5" stroke="#8a8a8a" stroke-width="1" />
<line x1="809.3" y1="747.8" x2="1157.8" y2="747.8" stroke="#8a8a8a" stroke-width="1.6" />
<text x="805.8" y="675.8" font-size="15" fill="#10305a" font-weight="normal" text-anchor="end" >6.0</text>
<text x="805.8" y="710.8" font-size="15" fill="#10305a" font-weight="normal" text-anchor="end" >4.0</text>
<text x="805.8" y="753.1" font-size="15" fill="#10305a" font-weight="normal" text-anchor="end" >2.0</text>
<text x="805.8" y="785.3" font-size="15" fill="#10305a" font-weight="normal" text-anchor="end" >0.0</text>
<line x1="831.4" y1="789.0" x2="831.4" y2="792.0" stroke="#7d7d7d" stroke-width="1.2" />
<line x1="859.4" y1="789.0" x2="859.4" y2="792.0" stroke="#7d7d7d" stroke-width="1.2" />
<line x1="887.4" y1="789.0" x2="887.4" y2="792.0" stroke="#7d7d7d" stroke-width="1.2" />
<line x1="915.4" y1="789.0" x2="915.4" y2="792.0" stroke="#7d7d7d" stroke-width="1.2" />
<line x1="943.4" y1="789.0" x2="943.4" y2="795.0" stroke="#7d7d7d" stroke-width="1.2" />
<line x1="971.4" y1="789.0" x2="971.4" y2="792.0" stroke="#7d7d7d" stroke-width="1.2" />
<line x1="999.4" y1="789.0" x2="999.4" y2="792.0" stroke="#7d7d7d" stroke-width="1.2" />
<line x1="1027.4" y1="789.0" x2="1027.4" y2="792.0" stroke="#7d7d7d" stroke-width="1.2" />
<line x1="1055.4" y1="789.0" x2="1055.4" y2="792.0" stroke="#7d7d7d" stroke-width="1.2" />
<line x1="1083.4" y1="789.0" x2="1083.4" y2="795.0" stroke="#7d7d7d" stroke-width="1.2" />
<line x1="1111.4" y1="789.0" x2="1111.4" y2="792.0" stroke="#7d7d7d" stroke-width="1.2" />
<line x1="1139.4" y1="789.0" x2="1139.4" y2="792.0" stroke="#7d7d7d" stroke-width="1.2" />
<text x="943.6" y="810.4" font-size="15.2" fill="#10305a" font-weight="normal" text-anchor="middle" >2019</text>
<text x="1083.6" y="810.4" font-size="15.2" fill="#10305a" font-weight="normal" text-anchor="middle" >2024</text>
<text x="815.8" y="703.5" font-size="16" fill="#0070c0" font-weight="bold" text-anchor="start" >5.0</text>
<text x="1133.8" y="721.0" font-size="16" fill="#0070c0" font-weight="bold" text-anchor="start" >4.3</text>
<polyline points="832.3,685.9 834.7,683.2 836.8,680.1 839.2,668.4 841.5,671.5 843.9,675.6 846.2,680.1 848.6,681.4 850.9,683.0 853.2,685.3 855.6,689.0 857.9,695.3 860.3,687.6 862.7,693.1 864.9,690.5 867.3,684.5 869.6,685.5 871.9,690.6 874.2,692.6 876.6,693.0 879.0,694.9 881.3,704.6 883.7,707.2 886.0,706.2 888.4,713.8 890.7,707.9 892.9,720.6 895.3,722.4 897.6,718.6 899.9,712.4 902.2,713.5 904.6,712.8 907.0,711.3 909.3,709.6 911.7,710.8 914.0,715.1 916.3,717.7 918.7,723.1 920.9,727.2 923.2,733.3 925.5,728.8 927.9,730.1 930.2,732.9 932.6,726.5 935.0,723.6 937.3,726.2 939.7,733.8 942.0,738.0 944.3,740.1 946.7,745.3 948.9,750.0 951.2,742.8 953.5,745.8 955.9,743.7 958.2,743.0 960.6,743.5 963.0,741.9 965.3,742.5 967.6,742.2 969.9,746.3 972.3,750.2 974.7,748.7 976.9,746.1 979.3,750.7 981.6,756.2 984.0,760.3 986.3,758.4 988.7,762.2 991.0,759.9 993.3,765.2 995.7,768.0 998.0,768.8 1000.4,773.5 1002.8,774.4 1004.9,773.3 1007.3,772.2 1009.6,775.7 1012.0,770.3 1014.3,768.2 1016.6,768.2 1019.0,768.4 1021.3,770.6 1023.7,770.9 1026.0,773.0 1028.4,776.5 1030.7,779.2 1032.9,776.6 1035.3,772.4 1037.6,767.6 1039.9,760.1 1042.2,754.9 1044.6,750.8 1047.0,746.4 1049.3,741.9 1051.7,743.3 1054.0,738.3 1056.4,742.1 1058.7,744.1 1060.9,748.2 1063.3,750.8 1065.6,745.8 1067.9,740.2 1070.2,734.7 1072.6,726.3 1075.0,720.4 1077.3,717.7 1079.7,716.9 1082.0,719.2 1084.3,720.6 1086.7,719.0 1088.9,716.3 1091.3,713.9 1093.6,710.4 1096.0,700.9 1098.3,704.1 1100.7,707.2 1103.1,704.8 1105.4,703.6 1107.7,704.6 1110.0,709.2 1112.4,707.3 1114.8,707.4 1116.9,699.6 1119.3,692.7 1121.6,694.5 1124.0,693.3 1126.3,697.1 1128.7,689.3 1131.0,694.5 1133.3,692.1 1135.7,697.5 1138.0,699.7 1140.4,700.3" fill="none" stroke="#0070c0" stroke-width="3.6" stroke-linejoin="round" stroke-linecap="round" />
<text transform="translate(1440.4,224.8) scale(0.968,1)" font-size="37.3" fill="#333" font-weight="bold" text-anchor="middle" >Price Distribution</text>
<line x1="1311.5" y1="244.0" x2="1311.5" y2="845.0" stroke="#959595" stroke-width="1" />
<rect x="1312.0" y="254.0" width="23.0" height="56.0" fill="#7a0000" />
<text x="1304.5" y="288.3" font-size="16" fill="#10305a" text-anchor="end">&lt; $100k</text>
<text x="1339.2" y="288.3" font-size="18.7" fill="#7a0000" font-weight="bold" text-anchor="start" >4.6%</text>
<rect x="1312.0" y="329.0" width="152.0" height="56.0" fill="#7a0000" />
<text x="1304.5" y="363.3" font-size="16" fill="#10305a" text-anchor="end">$100-199k</text>
<text x="1468.2" y="363.3" font-size="18.7" fill="#7a0000" font-weight="bold" text-anchor="start" >29.6%</text>
<rect x="1312.0" y="404.0" width="280.0" height="56.0" fill="#00284d" />
<text x="1304.5" y="438.3" font-size="16" fill="#10305a" text-anchor="end">$200-299k</text>
<text x="1596.2" y="438.3" font-size="18.7" fill="#00284d" font-weight="bold" text-anchor="start" >54.5%</text>
<rect x="1312.0" y="479.0" width="10.6" height="56.0" fill="#00284d" />
<text x="1304.5" y="513.3" font-size="16" fill="#10305a" text-anchor="end">$300-399k</text>
<text x="1326.8" y="513.3" font-size="18.7" fill="#00284d" font-weight="bold" text-anchor="start" >2.3%</text>
<rect x="1312.0" y="554.0" width="34.5" height="56.0" fill="#00284d" />
<text x="1304.5" y="588.3" font-size="16" fill="#10305a" text-anchor="end">$400-499k</text>
<text x="1350.7" y="588.3" font-size="18.7" fill="#00284d" font-weight="bold" text-anchor="start" >6.8%</text>
<rect x="1312.0" y="629.0" width="10.6" height="56.0" fill="#b1a06d" />
<text x="1304.5" y="663.3" font-size="16" fill="#10305a" text-anchor="end">$500-749k</text>
<text x="1326.8" y="663.3" font-size="18.7" fill="#b1a06d" font-weight="bold" text-anchor="start" >2.3%</text>
<text x="1304.5" y="738.3" font-size="16" fill="#10305a" text-anchor="end">$750-999k</text>
<text x="1318.2" y="738.3" font-size="18.7" fill="#b1a06d" font-weight="bold" text-anchor="start" >0.0%</text>
<text x="1304.5" y="813.3" font-size="16" fill="#10305a" text-anchor="end">$1M +</text>
<text x="1318.2" y="813.3" font-size="18.7" fill="#b1a06d" font-weight="bold" text-anchor="start" >0.0%</text>
<text transform="translate(1443.2,906.5) scale(0.982,1)" font-size="30.6" fill="#333" font-weight="bold" text-anchor="middle" >Price Distribution Over Time</text>
<rect x="1246.0" y="916.2" width="17.7" height="17.8" fill="#7a0000" />
<text x="1270.6" y="930.1" font-size="14.95" fill="#10305a" font-weight="normal" text-anchor="start" >% Under $200k</text>
<rect x="1396.2" y="916.2" width="17.7" height="17.8" fill="#00284d" />
<text x="1420.8" y="930.1" font-size="14.95" fill="#10305a" font-weight="normal" text-anchor="start" >% $200-500k</text>
<rect x="1546.2" y="916.2" width="17.7" height="17.8" fill="#b1a06d" />
<text x="1570.8" y="930.1" font-size="14.95" fill="#10305a" font-weight="normal" text-anchor="start" >% Over $500k</text>
<rect x="1282.3" y="955.0" width="372.3" height="600.6" fill="#7a0000" />
<polygon points="1282.3,1555.6 1282.3,1518.4 1285.1,1528.0 1287.9,1484.7 1290.8,1481.7 1293.6,1502.1 1296.4,1524.4 1299.2,1490.1 1302.0,1408.5 1304.9,1518.4 1307.7,1478.7 1310.5,1520.8 1313.3,1507.0 1316.1,1438.5 1319.0,1467.9 1321.8,1494.9 1324.6,1520.8 1327.4,1504.5 1330.2,1498.5 1333.1,1504.5 1335.9,1493.7 1338.7,1493.7 1341.5,1467.9 1344.3,1487.1 1347.2,1507.0 1350.0,1484.7 1352.8,1451.7 1355.6,1472.7 1358.5,1473.9 1361.3,1473.9 1364.1,1494.9 1366.9,1467.9 1369.7,1482.3 1372.6,1483.5 1375.4,1484.7 1378.2,1484.7 1381.0,1462.5 1383.8,1444.5 1386.7,1467.9 1389.5,1457.7 1392.3,1477.5 1395.1,1478.7 1397.9,1423.5 1400.8,1406.1 1403.6,1401.2 1406.4,1473.9 1409.2,1443.3 1412.0,1428.3 1414.9,1408.5 1417.7,1450.5 1420.5,1523.2 1423.3,1422.3 1426.1,1421.1 1429.0,1402.4 1431.8,1389.2 1434.6,1410.9 1437.4,1410.9 1440.2,1409.7 1443.1,1398.8 1445.9,1452.9 1448.7,1433.1 1451.5,1462.5 1454.3,1406.1 1457.2,1425.9 1460.0,1415.1 1462.8,1399.4 1465.6,1338.2 1468.4,1382.0 1471.3,1397.6 1474.1,1376.6 1476.9,1340.6 1479.7,1341.8 1482.6,1372.4 1485.4,1373.6 1488.2,1327.4 1491.0,1330.4 1493.8,1313.0 1496.7,1320.8 1499.5,1249.3 1502.3,1194.6 1505.1,1210.9 1507.9,1261.9 1510.8,1268.5 1513.6,1287.7 1516.4,1287.7 1519.2,1191.6 1522.0,1261.9 1524.9,1216.9 1527.7,1191.6 1530.5,1188.0 1533.3,1191.6 1536.1,1194.6 1539.0,1165.8 1541.8,1148.4 1544.6,1172.4 1547.4,1154.4 1550.2,1172.4 1553.1,1180.2 1555.9,1178.4 1558.7,1233.1 1561.5,1162.8 1564.3,1124.4 1567.2,1127.4 1570.0,1146.6 1572.8,1102.1 1575.6,1127.4 1578.4,1135.2 1581.3,1127.4 1584.1,1159.2 1586.9,1146.6 1589.7,1223.5 1592.5,1153.2 1595.4,1192.8 1598.2,1192.8 1601.0,1093.7 1603.8,1146.6 1606.7,1102.1 1609.5,1137.0 1612.3,1168.8 1615.1,1233.1 1617.9,1168.8 1620.8,1197.6 1623.6,1156.2 1626.4,1207.3 1629.2,1117.8 1632.0,1183.2 1634.9,1183.2 1637.7,1088.9 1640.5,1150.2 1643.3,1161.0 1646.1,1159.2 1649.0,1186.8 1651.8,1124.4 1654.6,1160.4 1654.6,1555.6" fill="#022a52"/>
<polygon points="1282.3,1555.6 1282.3,1555.6 1285.1,1555.6 1287.9,1555.6 1290.8,1555.6 1293.6,1555.6 1296.4,1555.6 1299.2,1550.2 1302.0,1555.6 1304.9,1555.6 1307.7,1555.6 1310.5,1555.6 1313.3,1555.6 1316.1,1555.6 1319.0,1555.6 1321.8,1555.6 1324.6,1555.6 1327.4,1555.6 1330.2,1555.6 1333.1,1555.6 1335.9,1555.6 1338.7,1555.6 1341.5,1555.6 1344.3,1539.4 1347.2,1555.6 1350.0,1555.6 1352.8,1555.6 1355.6,1555.6 1358.5,1555.6 1361.3,1550.2 1364.1,1555.6 1366.9,1555.6 1369.7,1555.6 1372.6,1555.6 1375.4,1555.6 1378.2,1555.6 1381.0,1555.6 1383.8,1555.6 1386.7,1549.0 1389.5,1555.6 1392.3,1550.2 1395.1,1555.6 1397.9,1551.4 1400.8,1555.6 1403.6,1548.4 1406.4,1547.8 1409.2,1547.8 1412.0,1548.4 1414.9,1555.6 1417.7,1549.0 1420.5,1555.6 1423.3,1544.2 1426.1,1555.6 1429.0,1552.6 1431.8,1555.6 1434.6,1549.0 1437.4,1539.4 1440.2,1555.6 1443.1,1555.6 1445.9,1555.6 1448.7,1555.6 1451.5,1549.0 1454.3,1555.6 1457.2,1550.2 1460.0,1555.6 1462.8,1555.6 1465.6,1552.0 1468.4,1555.6 1471.3,1550.2 1474.1,1550.2 1476.9,1555.6 1479.7,1555.6 1482.6,1555.6 1485.4,1555.6 1488.2,1508.2 1491.0,1540.0 1493.8,1555.6 1496.7,1530.4 1499.5,1555.6 1502.3,1546.6 1505.1,1546.6 1507.9,1541.8 1510.8,1540.0 1513.6,1538.8 1516.4,1543.6 1519.2,1524.4 1522.0,1543.6 1524.9,1544.8 1527.7,1544.8 1530.5,1546.0 1533.3,1540.0 1536.1,1527.4 1539.0,1537.0 1541.8,1541.8 1544.6,1541.8 1547.4,1546.6 1550.2,1541.8 1553.1,1530.4 1555.9,1501.5 1558.7,1555.6 1561.5,1508.2 1564.3,1524.4 1567.2,1540.0 1570.0,1555.6 1572.8,1543.6 1575.6,1534.0 1578.4,1540.0 1581.3,1543.6 1584.1,1546.6 1586.9,1540.0 1589.7,1525.6 1592.5,1540.0 1595.4,1537.0 1598.2,1519.6 1601.0,1525.6 1603.8,1524.4 1606.7,1508.2 1609.5,1534.0 1612.3,1534.0 1615.1,1532.2 1617.9,1530.4 1620.8,1555.6 1623.6,1519.6 1626.4,1537.0 1629.2,1544.8 1632.0,1546.6 1634.9,1555.6 1637.7,1543.6 1640.5,1537.0 1643.3,1555.6 1646.1,1530.4 1649.0,1535.2 1651.8,1537.0 1654.6,1541.8 1654.6,1555.6" fill="#b1a06d"/>
<path d="M1284.5 955.0V1555.6M1315.5 955.0V1555.6M1346.5 955.0V1555.6M1377.5 955.0V1555.6M1408.5 955.0V1555.6M1439.5 955.0V1555.6M1470.5 955.0V1555.6M1501.5 955.0V1555.6M1532.5 955.0V1555.6M1563.5 955.0V1555.6M1594.5 955.0V1555.6M1625.5 955.0V1555.6" stroke="#e8eef0" stroke-opacity="0.15" stroke-width="1" fill="none"/>
<path d="M1282.3 1528.5H1287.5M1285.0 1485.5H1290.5M1287.0 1482.5H1292.5M1290.0 1502.5H1295.5M1293.0 1524.5H1298.5M1296.0 1490.5H1301.5M1299.0 1408.5H1304.5M1301.0 1518.5H1306.5M1304.0 1479.5H1309.5M1307.0 1521.5H1312.5M1310.0 1507.5H1315.5M1313.0 1438.5H1318.5M1316.0 1468.5H1321.5M1318.0 1495.5H1323.5M1321.0 1521.5H1326.5M1324.0 1505.5H1329.5M1327.0 1499.5H1332.5M1330.0 1505.5H1335.5M1332.0 1494.5H1337.5M1335.0 1494.5H1340.5M1338.0 1468.5H1343.5M1341.0 1487.5H1346.5M1344.0 1507.5H1349.5M1347.0 1485.5H1352.5M1349.0 1452.5H1354.5M1352.0 1473.5H1357.5M1355.0 1474.5H1360.5M1358.0 1474.5H1363.5M1361.0 1495.5H1366.5M1364.0 1468.5H1369.5M1366.0 1482.5H1371.5M1369.0 1484.5H1374.5M1372.0 1485.5H1377.5M1375.0 1485.5H1380.5M1378.0 1463.5H1383.5M1380.0 1444.5H1385.5M1383.0 1468.5H1388.5M1386.0 1458.5H1391.5M1389.0 1478.5H1394.5M1392.0 1479.5H1397.5M1395.0 1423.5H1400.5M1397.0 1406.5H1402.5M1400.0 1401.5H1405.5M1403.0 1474.5H1408.5M1406.0 1443.5H1411.5M1409.0 1428.5H1414.5M1411.0 1408.5H1416.5M1414.0 1450.5H1419.5M1417.0 1523.5H1422.5M1420.0 1422.5H1425.5M1423.0 1421.5H1428.5M1426.0 1402.5H1431.5M1428.0 1389.5H1433.5M1431.0 1411.5H1436.5M1434.0 1411.5H1439.5M1437.0 1410.5H1442.5M1440.0 1399.5H1445.5M1442.0 1453.5H1447.5M1445.0 1433.5H1450.5M1448.0 1463.5H1453.5M1451.0 1406.5H1456.5M1454.0 1426.5H1459.5M1457.0 1415.5H1462.5M1459.0 1399.5H1464.5M1462.0 1338.5H1467.5M1465.0 1382.5H1470.5M1468.0 1398.5H1473.5M1471.0 1377.5H1476.5M1474.0 1341.5H1479.5M1476.0 1342.5H1481.5M1479.0 1372.5H1484.5M1482.0 1374.5H1487.5M1485.0 1327.5H1490.5M1488.0 1330.5H1493.5M1490.0 1313.5H1495.5M1493.0 1321.5H1498.5M1496.0 1249.5H1501.5M1499.0 1195.5H1504.5M1502.0 1211.5H1507.5M1505.0 1262.5H1510.5M1507.0 1269.5H1512.5M1510.0 1288.5H1515.5M1513.0 1288.5H1518.5M1516.0 1192.5H1521.5M1519.0 1262.5H1524.5M1521.0 1217.5H1526.5M1524.0 1192.5H1529.5M1527.0 1188.5H1532.5M1530.0 1192.5H1535.5M1533.0 1195.5H1538.5M1536.0 1166.5H1541.5M1538.0 1148.5H1543.5M1541.0 1172.5H1546.5M1544.0 1154.5H1549.5M1547.0 1172.5H1552.5M1550.0 1180.5H1555.5M1552.0 1178.5H1557.5M1555.0 1233.5H1560.5M1558.0 1163.5H1563.5M1561.0 1124.5H1566.5M1564.0 1127.5H1569.5M1567.0 1147.5H1572.5M1569.0 1102.5H1574.5M1572.0 1127.5H1577.5M1575.0 1135.5H1580.5M1578.0 1127.5H1583.5M1581.0 1159.5H1586.5M1584.0 1147.5H1589.5M1586.0 1223.5H1591.5M1589.0 1153.5H1594.5M1592.0 1193.5H1597.5M1595.0 1193.5H1600.5M1598.0 1094.5H1603.5M1600.0 1147.5H1605.5M1603.0 1102.5H1608.5M1606.0 1137.5H1611.5M1609.0 1169.5H1614.5M1612.0 1233.5H1617.5M1615.0 1169.5H1620.5M1617.0 1198.5H1622.5M1620.0 1156.5H1625.5M1623.0 1207.5H1628.5M1626.0 1118.5H1631.5M1629.0 1183.5H1634.5M1631.0 1183.5H1636.5M1634.0 1089.5H1639.5M1637.0 1150.5H1642.5M1640.0 1161.5H1645.5M1643.0 1159.5H1648.5M1646.0 1187.5H1651.5M1648.0 1124.5H1653.5M1651.0 1160.5H1654.6" stroke="#e8eef0" stroke-opacity="0.21" stroke-width="1" fill="none"/>
<path d="M1287.5 955.0V1555.6M1318.5 955.0V1555.6M1349.5 955.0V1555.6M1380.5 955.0V1555.6M1411.5 955.0V1555.6M1442.5 955.0V1555.6M1473.5 955.0V1555.6M1504.5 955.0V1555.6M1535.5 955.0V1555.6M1566.5 955.0V1555.6M1597.5 955.0V1555.6M1628.5 955.0V1555.6" stroke="#e8eef0" stroke-opacity="0.07" stroke-width="1" fill="none"/>
<path d="M1289.5 955.0V1555.6M1320.5 955.0V1555.6M1351.5 955.0V1555.6M1382.5 955.0V1555.6M1413.5 955.0V1555.6M1444.5 955.0V1555.6M1476.5 955.0V1555.6M1507.5 955.0V1555.6M1538.5 955.0V1555.6M1569.5 955.0V1555.6M1600.5 955.0V1555.6M1631.5 955.0V1555.6" stroke="#e8eef0" stroke-opacity="0.22" stroke-width="1" fill="none"/>
<path d="M1292.5 955.0V1555.6M1323.5 955.0V1555.6M1354.5 955.0V1555.6M1385.5 955.0V1555.6M1416.5 955.0V1555.6M1447.5 955.0V1555.6M1478.5 955.0V1555.6M1509.5 955.0V1555.6M1540.5 955.0V1555.6M1571.5 955.0V1555.6M1602.5 955.0V1555.6M1633.5 955.0V1555.6" stroke="#e8eef0" stroke-opacity="0.2" stroke-width="1" fill="none"/>
<path d="M1295.5 955.0V1555.6M1326.5 955.0V1555.6M1357.5 955.0V1555.6M1388.5 955.0V1555.6M1419.5 955.0V1555.6M1450.5 955.0V1555.6M1481.5 955.0V1555.6M1512.5 955.0V1555.6M1543.5 955.0V1555.6M1574.5 955.0V1555.6M1605.5 955.0V1555.6M1636.5 955.0V1555.6" stroke="#e8eef0" stroke-opacity="0.17" stroke-width="1" fill="none"/>
<path d="M1298.5 955.0V1555.6M1296.0 1550.5H1301.5M1329.5 955.0V1555.6M1341.0 1539.5H1346.5M1360.5 955.0V1555.6M1358.0 1550.5H1363.5M1383.0 1549.5H1388.5M1391.5 955.0V1555.6M1389.0 1550.5H1394.5M1395.0 1551.5H1400.5M1400.0 1548.5H1405.5M1403.0 1548.5H1408.5M1406.0 1548.5H1411.5M1409.0 1548.5H1414.5M1414.0 1549.5H1419.5M1422.5 955.0V1555.6M1420.0 1544.5H1425.5M1426.0 1553.5H1431.5M1431.0 1549.5H1436.5M1434.0 1539.5H1439.5M1448.0 1549.5H1453.5M1453.5 955.0V1555.6M1454.0 1550.5H1459.5M1462.0 1552.5H1467.5M1468.0 1550.5H1473.5M1471.0 1550.5H1476.5M1484.5 955.0V1555.6M1485.0 1508.5H1490.5M1488.0 1540.5H1493.5M1493.0 1530.5H1498.5M1499.0 1547.5H1504.5M1502.0 1547.5H1507.5M1505.0 1542.5H1510.5M1507.0 1540.5H1512.5M1510.0 1539.5H1515.5M1515.5 955.0V1555.6M1513.0 1544.5H1518.5M1516.0 1524.5H1521.5M1519.0 1544.5H1524.5M1521.0 1545.5H1526.5M1524.0 1545.5H1529.5M1527.0 1546.5H1532.5M1530.0 1540.5H1535.5M1533.0 1527.5H1538.5M1536.0 1537.5H1541.5M1538.0 1542.5H1543.5M1541.0 1542.5H1546.5M1546.5 955.0V1555.6M1544.0 1547.5H1549.5M1547.0 1542.5H1552.5M1550.0 1530.5H1555.5M1552.0 1502.5H1557.5M1558.0 1508.5H1563.5M1561.0 1524.5H1566.5M1564.0 1540.5H1569.5M1569.0 1544.5H1574.5M1572.0 1534.5H1577.5M1577.5 955.0V1555.6M1575.0 1540.5H1580.5M1578.0 1544.5H1583.5M1581.0 1547.5H1586.5M1584.0 1540.5H1589.5M1586.0 1526.5H1591.5M1589.0 1540.5H1594.5M1592.0 1537.5H1597.5M1595.0 1520.5H1600.5M1598.0 1526.5H1603.5M1600.0 1524.5H1605.5M1603.0 1508.5H1608.5M1608.5 955.0V1555.6M1606.0 1534.5H1611.5M1609.0 1534.5H1614.5M1612.0 1532.5H1617.5M1615.0 1530.5H1620.5M1620.0 1520.5H1625.5M1623.0 1537.5H1628.5M1626.0 1545.5H1631.5M1629.0 1547.5H1634.5M1634.0 1544.5H1639.5M1639.5 955.0V1555.6M1637.0 1537.5H1642.5M1643.0 1530.5H1648.5M1646.0 1535.5H1651.5M1648.0 1537.5H1653.5M1651.0 1542.5H1654.6" stroke="#e8eef0" stroke-opacity="0.13" stroke-width="1" fill="none"/>
<path d="M1301.5 955.0V1555.6M1332.5 955.0V1555.6M1363.5 955.0V1555.6M1394.5 955.0V1555.6M1425.5 955.0V1555.6M1456.5 955.0V1555.6M1487.5 955.0V1555.6M1518.5 955.0V1555.6M1549.5 955.0V1555.6M1580.5 955.0V1555.6M1611.5 955.0V1555.6M1642.5 955.0V1555.6" stroke="#e8eef0" stroke-opacity="0.11" stroke-width="1" fill="none"/>
<path d="M1303.5 955.0V1555.6M1334.5 955.0V1555.6M1366.5 955.0V1555.6M1397.5 955.0V1555.6M1428.5 955.0V1555.6M1459.5 955.0V1555.6M1490.5 955.0V1555.6M1521.5 955.0V1555.6M1552.5 955.0V1555.6M1583.5 955.0V1555.6M1614.5 955.0V1555.6M1645.5 955.0V1555.6" stroke="#e8eef0" stroke-opacity="0.26" stroke-width="1" fill="none"/>
<path d="M1306.5 955.0V1555.6M1337.5 955.0V1555.6M1368.5 955.0V1555.6M1399.5 955.0V1555.6M1430.5 955.0V1555.6M1461.5 955.0V1555.6M1492.5 955.0V1555.6M1523.5 955.0V1555.6M1554.5 955.0V1555.6M1586.5 955.0V1555.6M1617.5 955.0V1555.6M1648.5 955.0V1555.6" stroke="#e8eef0" stroke-opacity="0.28" stroke-width="1" fill="none"/>
<path d="M1309.5 955.0V1555.6M1340.5 955.0V1555.6M1371.5 955.0V1555.6M1402.5 955.0V1555.6M1433.5 955.0V1555.6M1464.5 955.0V1555.6M1495.5 955.0V1555.6M1526.5 955.0V1555.6M1557.5 955.0V1555.6M1588.5 955.0V1555.6M1619.5 955.0V1555.6M1650.5 955.0V1555.6" stroke="#e8eef0" stroke-opacity="0.24" stroke-width="1" fill="none"/>
<path d="M1312.5 955.0V1555.6M1343.5 955.0V1555.6M1374.5 955.0V1555.6M1405.5 955.0V1555.6M1436.5 955.0V1555.6M1467.5 955.0V1555.6M1498.5 955.0V1555.6M1529.5 955.0V1555.6M1560.5 955.0V1555.6M1591.5 955.0V1555.6M1622.5 955.0V1555.6M1653.5 955.0V1555.6" stroke="#e8eef0" stroke-opacity="0.09" stroke-width="1" fill="none"/>
<text x="1254.3" y="960.2" font-size="14.7" fill="#10305a" font-weight="normal" text-anchor="end" >100%</text>
<text x="1254.3" y="1020.3" font-size="14.7" fill="#10305a" font-weight="normal" text-anchor="end" >90%</text>
<text x="1254.3" y="1080.3" font-size="14.7" fill="#10305a" font-weight="normal" text-anchor="end" >80%</text>
<text x="1254.3" y="1140.4" font-size="14.7" fill="#10305a" font-weight="normal" text-anchor="end" >70%</text>
<text x="1254.3" y="1200.4" font-size="14.7" fill="#10305a" font-weight="normal" text-anchor="end" >60%</text>
<text x="1254.3" y="1260.5" font-size="14.7" fill="#10305a" font-weight="normal" text-anchor="end" >50%</text>
<text x="1254.3" y="1320.6" font-size="14.7" fill="#10305a" font-weight="normal" text-anchor="end" >40%</text>
<text x="1254.3" y="1380.6" font-size="14.7" fill="#10305a" font-weight="normal" text-anchor="end" >30%</text>
<text x="1254.3" y="1440.7" font-size="14.7" fill="#10305a" font-weight="normal" text-anchor="end" >20%</text>
<text x="1254.3" y="1500.7" font-size="14.7" fill="#10305a" font-weight="normal" text-anchor="end" >10%</text>
<text x="1254.3" y="1553.3" font-size="14.7" fill="#10305a" font-weight="normal" text-anchor="end" >0%</text>
<text x="1416.7" y="1578.6" font-size="15" fill="#10305a" font-weight="normal" text-anchor="middle" >2019</text>
<text x="1586.0" y="1578.6" font-size="15" fill="#10305a" font-weight="normal" text-anchor="middle" >2024</text>
<text transform="translate(1344.5,1055.0) scale(0.99,1)" font-size="20" fill="#fff" font-weight="bold" text-anchor="start" >% Under $200k</text>
<text transform="translate(1504.3,1438.0) scale(0.99,1)" font-size="20" fill="#fff" font-weight="bold" text-anchor="start" >% $200-500k</text>
<rect x="274.0" y="869.0" width="917.2" height="61.1" fill="#00284d" />
<text transform="translate(732.5,913.0) scale(0.9905,1)" font-size="36.7" fill="#e4ebea" font-weight="bold" text-anchor="middle" >Growth Trend for Closed Sales and Median Price</text>
<line x1="277.0" y1="935.3" x2="1185.6" y2="935.3" stroke="#dcdcdc" stroke-width="1" />
<line x1="1185.6" y1="935.3" x2="1185.6" y2="1162.4" stroke="#dcdcdc" stroke-width="1" />
<line x1="354.6" y1="935.3" x2="354.6" y2="1162.4" stroke="#f2f2f2" stroke-width="1.4" />
<line x1="277.0" y1="1162.4" x2="1185.6" y2="1162.4" stroke="#e6e6e6" stroke-width="1.4" />
<line x1="354.6" y1="1067.7" x2="1185.6" y2="1067.7" stroke="#fbfbfb" stroke-width="3" />
<text x="344.5" y="994.1" font-size="14.7" fill="#10305a" font-weight="normal" text-anchor="end" >20.0%</text>
<line x1="348.0" y1="988.8" x2="354.6" y2="988.8" stroke="#f2f2f2" stroke-width="1.2" />
<text x="344.5" y="1073.0" font-size="14.7" fill="#10305a" font-weight="normal" text-anchor="end" >0.0%</text>
<line x1="348.0" y1="1067.7" x2="354.6" y2="1067.7" stroke="#f2f2f2" stroke-width="1.2" />
<text x="344.5" y="1151.9" font-size="14.7" fill="#10305a" font-weight="normal" text-anchor="end" >-20.0%</text>
<line x1="348.0" y1="1146.6" x2="354.6" y2="1146.6" stroke="#f2f2f2" stroke-width="1.2" />
<line x1="393.6" y1="1162.4" x2="393.6" y2="1169.0" stroke="#f2f2f2" stroke-width="1.4" />
<text x="393.6" y="1185.2" font-size="14.7" fill="#10305a" font-weight="normal" text-anchor="middle" >2015</text>
<line x1="461.8" y1="1162.4" x2="461.8" y2="1169.0" stroke="#f2f2f2" stroke-width="1.4" />
<text x="461.8" y="1185.2" font-size="14.7" fill="#10305a" font-weight="normal" text-anchor="middle" >2016</text>
<line x1="530.1" y1="1162.4" x2="530.1" y2="1169.0" stroke="#f2f2f2" stroke-width="1.4" />
<text x="530.1" y="1185.2" font-size="14.7" fill="#10305a" font-weight="normal" text-anchor="middle" >2017</text>
<line x1="598.3" y1="1162.4" x2="598.3" y2="1169.0" stroke="#f2f2f2" stroke-width="1.4" />
<text x="598.3" y="1185.2" font-size="14.7" fill="#10305a" font-weight="normal" text-anchor="middle" >2018</text>
<line x1="666.4" y1="1162.4" x2="666.4" y2="1169.0" stroke="#f2f2f2" stroke-width="1.4" />
<text x="666.4" y="1185.2" font-size="14.7" fill="#10305a" font-weight="normal" text-anchor="middle" >2019</text>
<line x1="734.6" y1="1162.4" x2="734.6" y2="1169.0" stroke="#f2f2f2" stroke-width="1.4" />
<text x="734.6" y="1185.2" font-size="14.7" fill="#10305a" font-weight="normal" text-anchor="middle" >2020</text>
<line x1="802.9" y1="1162.4" x2="802.9" y2="1169.0" stroke="#f2f2f2" stroke-width="1.4" />
<text x="802.9" y="1185.2" font-size="14.7" fill="#10305a" font-weight="normal" text-anchor="middle" >2021</text>
<line x1="871.1" y1="1162.4" x2="871.1" y2="1169.0" stroke="#f2f2f2" stroke-width="1.4" />
<text x="871.1" y="1185.2" font-size="14.7" fill="#10305a" font-weight="normal" text-anchor="middle" >2022</text>
<line x1="939.2" y1="1162.4" x2="939.2" y2="1169.0" stroke="#f2f2f2" stroke-width="1.4" />
<text x="939.2" y="1185.2" font-size="14.7" fill="#10305a" font-weight="normal" text-anchor="middle" >2023</text>
<line x1="1007.4" y1="1162.4" x2="1007.4" y2="1169.0" stroke="#f2f2f2" stroke-width="1.4" />
<text x="1007.4" y="1185.2" font-size="14.7" fill="#10305a" font-weight="normal" text-anchor="middle" >2024</text>
<line x1="1075.7" y1="1162.4" x2="1075.7" y2="1169.0" stroke="#f2f2f2" stroke-width="1.4" />
<text x="1075.7" y="1185.2" font-size="14.7" fill="#10305a" font-weight="normal" text-anchor="middle" >2025</text>
<line x1="1143.9" y1="1162.4" x2="1143.9" y2="1169.0" stroke="#f2f2f2" stroke-width="1.4" />
<text x="1143.9" y="1185.2" font-size="14.7" fill="#10305a" font-weight="normal" text-anchor="middle" >2026</text>
<line x1="359.2" y1="1162.4" x2="359.2" y2="1165.6" stroke="#f2f2f2" stroke-width="1.2" />
<line x1="376.4" y1="1162.4" x2="376.4" y2="1165.6" stroke="#f2f2f2" stroke-width="1.2" />
<line x1="393.6" y1="1162.4" x2="393.6" y2="1165.6" stroke="#f2f2f2" stroke-width="1.2" />
<line x1="410.4" y1="1162.4" x2="410.4" y2="1165.6" stroke="#f2f2f2" stroke-width="1.2" />
<line x1="427.4" y1="1162.4" x2="427.4" y2="1165.6" stroke="#f2f2f2" stroke-width="1.2" />
<line x1="444.6" y1="1162.4" x2="444.6" y2="1165.6" stroke="#f2f2f2" stroke-width="1.2" />
<line x1="461.8" y1="1162.4" x2="461.8" y2="1165.6" stroke="#f2f2f2" stroke-width="1.2" />
<line x1="478.8" y1="1162.4" x2="478.8" y2="1165.6" stroke="#f2f2f2" stroke-width="1.2" />
<line x1="495.7" y1="1162.4" x2="495.7" y2="1165.6" stroke="#f2f2f2" stroke-width="1.2" />
<line x1="512.9" y1="1162.4" x2="512.9" y2="1165.6" stroke="#f2f2f2" stroke-width="1.2" />
<line x1="530.1" y1="1162.4" x2="530.1" y2="1165.6" stroke="#f2f2f2" stroke-width="1.2" />
<line x1="546.9" y1="1162.4" x2="546.9" y2="1165.6" stroke="#f2f2f2" stroke-width="1.2" />
<line x1="563.9" y1="1162.4" x2="563.9" y2="1165.6" stroke="#f2f2f2" stroke-width="1.2" />
<line x1="581.1" y1="1162.4" x2="581.1" y2="1165.6" stroke="#f2f2f2" stroke-width="1.2" />
<line x1="598.3" y1="1162.4" x2="598.3" y2="1165.6" stroke="#f2f2f2" stroke-width="1.2" />
<line x1="615.1" y1="1162.4" x2="615.1" y2="1165.6" stroke="#f2f2f2" stroke-width="1.2" />
<line x1="632.1" y1="1162.4" x2="632.1" y2="1165.6" stroke="#f2f2f2" stroke-width="1.2" />
<line x1="649.2" y1="1162.4" x2="649.2" y2="1165.6" stroke="#f2f2f2" stroke-width="1.2" />
<line x1="666.4" y1="1162.4" x2="666.4" y2="1165.6" stroke="#f2f2f2" stroke-width="1.2" />
<line x1="683.2" y1="1162.4" x2="683.2" y2="1165.6" stroke="#f2f2f2" stroke-width="1.2" />
<line x1="700.2" y1="1162.4" x2="700.2" y2="1165.6" stroke="#f2f2f2" stroke-width="1.2" />
<line x1="717.4" y1="1162.4" x2="717.4" y2="1165.6" stroke="#f2f2f2" stroke-width="1.2" />
<line x1="734.6" y1="1162.4" x2="734.6" y2="1165.6" stroke="#f2f2f2" stroke-width="1.2" />
<line x1="751.6" y1="1162.4" x2="751.6" y2="1165.6" stroke="#f2f2f2" stroke-width="1.2" />
<line x1="768.6" y1="1162.4" x2="768.6" y2="1165.6" stroke="#f2f2f2" stroke-width="1.2" />
<line x1="785.7" y1="1162.4" x2="785.7" y2="1165.6" stroke="#f2f2f2" stroke-width="1.2" />
<line x1="802.9" y1="1162.4" x2="802.9" y2="1165.6" stroke="#f2f2f2" stroke-width="1.2" />
<line x1="819.7" y1="1162.4" x2="819.7" y2="1165.6" stroke="#f2f2f2" stroke-width="1.2" />
<line x1="836.7" y1="1162.4" x2="836.7" y2="1165.6" stroke="#f2f2f2" stroke-width="1.2" />
<line x1="853.9" y1="1162.4" x2="853.9" y2="1165.6" stroke="#f2f2f2" stroke-width="1.2" />
<line x1="871.1" y1="1162.4" x2="871.1" y2="1165.6" stroke="#f2f2f2" stroke-width="1.2" />
<line x1="887.9" y1="1162.4" x2="887.9" y2="1165.6" stroke="#f2f2f2" stroke-width="1.2" />
<line x1="904.9" y1="1162.4" x2="904.9" y2="1165.6" stroke="#f2f2f2" stroke-width="1.2" />
<line x1="922.1" y1="1162.4" x2="922.1" y2="1165.6" stroke="#f2f2f2" stroke-width="1.2" />
<line x1="939.2" y1="1162.4" x2="939.2" y2="1165.6" stroke="#f2f2f2" stroke-width="1.2" />
<line x1="956.0" y1="1162.4" x2="956.0" y2="1165.6" stroke="#f2f2f2" stroke-width="1.2" />
<line x1="973.0" y1="1162.4" x2="973.0" y2="1165.6" stroke="#f2f2f2" stroke-width="1.2" />
<line x1="990.2" y1="1162.4" x2="990.2" y2="1165.6" stroke="#f2f2f2" stroke-width="1.2" />
<line x1="1007.4" y1="1162.4" x2="1007.4" y2="1165.6" stroke="#f2f2f2" stroke-width="1.2" />
<line x1="1024.4" y1="1162.4" x2="1024.4" y2="1165.6" stroke="#f2f2f2" stroke-width="1.2" />
<line x1="1041.4" y1="1162.4" x2="1041.4" y2="1165.6" stroke="#f2f2f2" stroke-width="1.2" />
<line x1="1058.6" y1="1162.4" x2="1058.6" y2="1165.6" stroke="#f2f2f2" stroke-width="1.2" />
<line x1="1075.7" y1="1162.4" x2="1075.7" y2="1165.6" stroke="#f2f2f2" stroke-width="1.2" />
<line x1="1092.5" y1="1162.4" x2="1092.5" y2="1165.6" stroke="#f2f2f2" stroke-width="1.2" />
<line x1="1109.5" y1="1162.4" x2="1109.5" y2="1165.6" stroke="#f2f2f2" stroke-width="1.2" />
<line x1="1126.7" y1="1162.4" x2="1126.7" y2="1165.6" stroke="#f2f2f2" stroke-width="1.2" />
<line x1="1143.9" y1="1162.4" x2="1143.9" y2="1165.6" stroke="#f2f2f2" stroke-width="1.2" />
<polyline points="394.6,1070.9 400.4,1063.8 405.6,1054.7 411.4,1045.2 417.0,1030.2 422.8,1036.5 428.4,1014.5 434.2,1024.3 440.0,1028.3 445.6,1012.9 451.4,1018.0 457.0,1012.9 462.8,1022.3 468.5,1021.2 474.0,1021.9 479.8,1033.8 485.4,1045.2 491.1,1031.0 496.7,1065.3 502.5,1048.0 508.3,1030.2 513.9,1037.3 519.7,1012.9 525.3,1017.2 531.1,1006.6 536.9,1022.3 542.1,1021.6 547.9,1010.9 553.5,982.9 559.3,1002.2 564.9,967.9 570.7,976.6 576.5,998.7 582.1,1006.6 587.9,1014.9 593.5,1013.7 599.3,1021.2 605.1,999.1 610.3,1010.9 616.1,1005.8 621.7,1025.9 627.5,1003.0 633.1,1016.0 638.8,1016.0 644.6,987.2 650.2,982.5 656.0,990.0 661.6,996.7 667.4,1002.6 673.2,1003.4 678.4,995.5 684.2,1011.3 689.8,1002.2 695.6,1022.3 701.2,1022.3 707.0,1025.1 712.8,1049.6 718.4,1053.1 724.2,1052.3 729.8,1043.6 735.6,1027.5 741.4,1040.1 746.8,1040.9 752.6,1038.9 758.2,1063.0 764.0,1060.2 769.6,1070.9 775.4,1072.4 781.1,1058.2 786.7,1046.0 792.5,1044.4 798.1,1051.5 803.9,1064.5 809.7,1064.9 814.9,1072.8 820.7,1053.1 826.3,1026.7 832.1,1014.5 837.7,1003.0 843.5,989.6 849.3,988.0 854.9,990.8 860.7,993.6 866.3,983.3 872.1,980.9 877.9,959.2 883.1,947.8 888.9,956.1 894.5,969.5 900.3,984.1 905.9,990.8 911.7,1002.2 917.5,1018.0 923.1,1034.6 928.8,1048.0 934.5,1062.2 940.2,1065.3 946.0,1090.2 951.3,1106.7 957.0,1121.7 962.6,1126.9 968.4,1124.1 974.0,1134.7 979.8,1150.5 985.6,1150.5 991.2,1140.7 997.0,1139.5 1002.6,1132.0 1008.4,1134.0 1014.2,1134.7 1019.6,1131.2 1025.4,1120.9 1031.0,1119.4 1036.8,1126.9 1042.4,1116.6 1048.2,1095.7 1054.0,1094.5 1059.6,1096.5 1065.4,1090.2 1071.0,1095.7 1076.7,1096.5 1082.5,1094.5 1087.8,1095.7 1093.5,1103.6 1099.2,1098.1 1104.9,1089.8 1110.5,1092.5 1116.3,1100.4 1122.1,1093.3 1127.7,1096.1 1133.5,1086.6 1139.1,1085.1 1144.9,1084.3" fill="none" stroke="#0070c0" stroke-width="5.0" stroke-linejoin="round" stroke-linecap="round" />
<polyline points="394.6,1067.3 400.4,1056.7 405.6,1053.1 411.4,1054.7 417.0,1053.1 422.8,1048.8 428.4,1044.4 434.2,1048.0 440.0,1041.7 445.6,1020.8 451.4,1035.4 457.0,1030.6 462.8,1038.1 468.5,1042.5 474.0,1038.1 479.8,1043.6 485.4,1036.5 491.1,1038.9 496.7,1040.9 502.5,1042.5 508.3,1049.6 513.9,1061.4 519.7,1018.8 525.3,1019.6 531.1,1031.8 536.9,1023.1 542.1,1028.7 547.9,1025.1 553.5,1039.3 559.3,1035.4 564.9,1035.4 570.7,1030.2 576.5,1026.7 582.1,1023.1 587.9,1048.4 593.5,1038.1 599.3,1027.5 605.1,1048.8 610.3,1045.2 616.1,1041.3 621.7,1031.0 627.5,1031.8 633.1,1030.6 638.8,1033.4 644.6,1029.4 650.2,1037.3 656.0,1042.5 661.6,1048.0 667.4,1055.1 673.2,1034.2 678.4,1033.4 684.2,1040.1 689.8,1036.5 695.6,1036.9 701.2,1040.1 707.0,1044.4 712.8,1051.5 718.4,1042.5 724.2,1042.1 729.8,1045.6 735.6,1040.9 741.4,1043.6 746.8,1043.6 752.6,1035.4 758.2,1035.8 764.0,1033.8 769.6,1029.0 775.4,1016.0 781.1,1012.5 786.7,1011.3 792.5,996.7 798.1,987.2 803.9,987.2 809.7,990.8 814.9,990.8 820.7,991.2 826.3,993.6 832.1,995.9 837.7,991.2 843.5,995.5 849.3,988.0 854.9,992.4 860.7,1003.8 866.3,1012.5 872.1,995.1 877.9,992.8 883.1,990.4 888.9,988.4 894.5,982.5 900.3,977.8 905.9,984.5 911.7,988.0 917.5,990.0 923.1,989.6 928.8,984.9 934.5,979.4 940.2,1000.3 946.0,997.9 951.3,1006.6 957.0,1011.7 962.6,1017.6 968.4,1022.3 974.0,1025.5 979.8,1028.7 985.6,1038.1 991.2,1035.8 997.0,1040.1 1002.6,1048.8 1008.4,1048.0 1014.2,1059.8 1019.6,1051.5 1025.4,1055.1 1031.0,1059.8 1036.8,1060.6 1042.4,1057.4 1048.2,1052.3 1054.0,1048.8 1059.6,1055.9 1065.4,1064.5 1071.0,1061.0 1076.7,1063.0 1082.5,1053.1 1087.8,1063.4 1093.5,1060.6 1099.2,1061.4 1104.9,1066.9 1110.5,1067.7 1116.3,1074.0 1122.1,1077.2 1127.7,1075.2 1133.5,1068.1 1139.1,1070.9 1144.9,1068.5" fill="none" stroke="#55564f" stroke-width="5.0" stroke-linejoin="round" stroke-linecap="round" />
<rect x="801.3" y="1198.3" width="17.5" height="16.6" fill="#0070c0" />
<text transform="translate(825.2,1212.8) scale(1.014,1)" font-size="15.2" fill="#606060">Closed Sales Growth</text>
<rect x="1001.2" y="1198.3" width="17.5" height="16.6" fill="#55564f" />
<text transform="translate(1025.2,1212.8) scale(1.048,1)" font-size="15.2" fill="#606060">Median Price Growth</text>
<rect x="276.7" y="1225.0" width="918.3" height="57.4" fill="#00284d" />
<text transform="translate(735.6,1266.5) scale(0.988,1)" font-size="36.7" fill="#e4ebea" font-weight="bold" text-anchor="middle" >Closed Sales &amp; Active Listings</text>
<line x1="277.0" y1="1284.0" x2="1194.5" y2="1284.0" stroke="#dcdcdc" stroke-width="1" />
<line x1="345.9" y1="1286.0" x2="345.9" y2="1573.0" stroke="#f2f2f2" stroke-width="1.4" />
<line x1="1125.3" y1="1286.0" x2="1125.3" y2="1573.0" stroke="#c8c8c8" stroke-width="1.2" />
<line x1="277.0" y1="1573.0" x2="1194.5" y2="1573.0" stroke="#e2e2e2" stroke-width="1.2" />
<path d="M384 1573.0V1475.0H389V1573.0zM389 1573.0V1479.0H394V1573.0zM394 1573.0V1464.0H399V1573.0zM399 1573.0V1438.0H405V1573.0zM405 1573.0V1455.0H410V1573.0zM410 1573.0V1449.0H415V1573.0zM415 1573.0V1397.0H421V1573.0zM421 1573.0V1451.0H426V1573.0zM426 1573.0V1470.0H431V1573.0zM431 1573.0V1457.0H437V1573.0zM437 1573.0V1500.0H442V1573.0zM442 1573.0V1449.0H447V1573.0zM447 1573.0V1485.0H453V1573.0zM453 1573.0V1455.0H458V1573.0zM458 1573.0V1447.0H463V1573.0zM463 1573.0V1464.0H468V1573.0zM468 1573.0V1472.0H474V1573.0zM474 1573.0V1400.0H479V1573.0zM479 1573.0V1472.0H484V1573.0zM484 1573.0V1412.0H490V1573.0zM490 1573.0V1425.0H495V1573.0zM495 1573.0V1438.0H500V1573.0zM500 1573.0V1460.0H506V1573.0zM506 1573.0V1442.0H511V1573.0zM511 1573.0V1460.0H517V1573.0zM517 1573.0V1487.0H521V1573.0zM521 1573.0V1419.0H527V1573.0zM527 1573.0V1447.0H532V1573.0zM532 1573.0V1404.0H537V1573.0zM537 1573.0V1425.0H543V1573.0zM543 1573.0V1415.0H548V1573.0zM548 1573.0V1400.0H554V1573.0zM554 1573.0V1464.0H559V1573.0zM559 1573.0V1447.0H564V1573.0zM564 1573.0V1427.0H569V1573.0zM569 1573.0V1427.0H575V1573.0zM575 1573.0V1451.0H580V1573.0zM580 1573.0V1455.0H585V1573.0zM585 1573.0V1438.0H590V1573.0zM590 1573.0V1406.0H596V1573.0zM596 1573.0V1391.0H601V1573.0zM601 1573.0V1350.0H606V1573.0zM606 1573.0V1382.0H612V1573.0zM612 1573.0V1382.0H617V1573.0zM617 1573.0V1397.0H622V1573.0zM622 1573.0V1436.0H628V1573.0zM628 1573.0V1421.0H633V1573.0zM633 1573.0V1438.0H638V1573.0zM638 1573.0V1464.0H644V1573.0zM644 1573.0V1415.0H649V1573.0zM649 1573.0V1421.0H654V1573.0zM654 1573.0V1434.0H659V1573.0zM659 1573.0V1331.0H665V1573.0zM665 1573.0V1372.0H670V1573.0zM670 1573.0V1342.0H675V1573.0zM675 1573.0V1387.0H681V1573.0zM681 1573.0V1421.0H686V1573.0zM686 1573.0V1442.0H691V1573.0zM691 1573.0V1410.0H697V1573.0zM697 1573.0V1412.0H702V1573.0zM702 1573.0V1421.0H708V1573.0zM708 1573.0V1430.0H713V1573.0zM713 1573.0V1395.0H718V1573.0zM718 1573.0V1449.0H723V1573.0zM723 1573.0V1423.0H729V1573.0zM729 1573.0V1372.0H734V1573.0zM734 1573.0V1374.0H739V1573.0zM739 1573.0V1395.0H745V1573.0zM745 1573.0V1385.0H750V1573.0zM750 1573.0V1393.0H755V1573.0zM755 1573.0V1389.0H761V1573.0zM761 1573.0V1415.0H766V1573.0zM766 1573.0V1425.0H771V1573.0zM771 1573.0V1442.0H776V1573.0zM776 1573.0V1408.0H782V1573.0zM782 1573.0V1391.0H787V1573.0zM787 1573.0V1359.0H792V1573.0zM792 1573.0V1301.0H798V1573.0zM798 1573.0V1337.0H803V1573.0zM803 1573.0V1320.0H808V1573.0zM808 1573.0V1333.0H814V1573.0zM814 1573.0V1350.0H819V1573.0zM819 1573.0V1367.0H824V1573.0zM824 1573.0V1367.0H830V1573.0zM830 1573.0V1421.0H835V1573.0zM835 1573.0V1365.0H840V1573.0zM840 1573.0V1367.0H845V1573.0zM845 1573.0V1348.0H851V1573.0zM851 1573.0V1355.0H856V1573.0zM856 1573.0V1335.0H861V1573.0zM861 1573.0V1331.0H867V1573.0zM867 1573.0V1305.0H872V1573.0zM872 1573.0V1380.0H877V1573.0zM877 1573.0V1412.0H883V1573.0zM883 1573.0V1421.0H888V1573.0zM888 1573.0V1408.0H893V1573.0zM893 1573.0V1430.0H899V1573.0zM899 1573.0V1402.0H904V1573.0zM904 1573.0V1406.0H909V1573.0zM909 1573.0V1410.0H914V1573.0zM914 1573.0V1382.0H920V1573.0zM920 1573.0V1344.0H925V1573.0zM925 1573.0V1391.0H930V1573.0zM930 1573.0V1434.0H936V1573.0zM936 1573.0V1417.0H941V1573.0zM941 1573.0V1408.0H946V1573.0zM946 1573.0V1457.0H951V1573.0zM951 1573.0V1404.0H957V1573.0zM957 1573.0V1445.0H962V1573.0zM962 1573.0V1438.0H967V1573.0zM967 1573.0V1421.0H973V1573.0zM973 1573.0V1400.0H978V1573.0zM978 1573.0V1402.0H983V1573.0zM983 1573.0V1404.0H989V1573.0zM989 1573.0V1385.0H994V1573.0zM994 1573.0V1408.0H999V1573.0zM999 1573.0V1438.0H1005V1573.0zM1005 1573.0V1417.0H1010V1573.0zM1010 1573.0V1462.0H1015V1573.0zM1015 1573.0V1430.0H1021V1573.0zM1021 1573.0V1462.0H1026V1573.0zM1026 1573.0V1455.0H1031V1573.0zM1031 1573.0V1440.0H1036V1573.0zM1036 1573.0V1432.0H1042V1573.0zM1042 1573.0V1391.0H1047V1573.0zM1047 1573.0V1404.0H1052V1573.0zM1052 1573.0V1393.0H1058V1573.0zM1058 1573.0V1421.0H1063V1573.0zM1063 1573.0V1423.0H1068V1573.0zM1068 1573.0V1442.0H1074V1573.0zM1074 1573.0V1432.0H1079V1573.0zM1079 1573.0V1445.0H1084V1573.0zM1084 1573.0V1475.0H1090V1573.0z" fill="#0070c0"/>
<line x1="340.0" y1="1573.0" x2="345.9" y2="1573.0" stroke="#f2f2f2" stroke-width="1.2" />
<text x="337.0" y="1570.8" font-size="14.7" fill="#10305a" font-weight="normal" text-anchor="end" >0</text>
<line x1="340.0" y1="1466.0" x2="345.9" y2="1466.0" stroke="#f2f2f2" stroke-width="1.2" />
<text x="337.0" y="1471.2" font-size="14.7" fill="#10305a" font-weight="normal" text-anchor="end" >50</text>
<line x1="340.0" y1="1358.9" x2="345.9" y2="1358.9" stroke="#f2f2f2" stroke-width="1.2" />
<text x="337.0" y="1364.2" font-size="14.7" fill="#10305a" font-weight="normal" text-anchor="end" >100</text>
<line x1="1125.3" y1="1573.0" x2="1131.0" y2="1573.0" stroke="#f2f2f2" stroke-width="1.3" />
<text x="1134.5" y="1569.8" font-size="14.9" fill="#10305a" font-weight="normal" text-anchor="start" >0</text>
<line x1="1125.3" y1="1489.2" x2="1131.0" y2="1489.2" stroke="#f2f2f2" stroke-width="1.3" />
<text x="1134.5" y="1495.0" font-size="14.9" fill="#10305a" font-weight="normal" text-anchor="start" >100</text>
<line x1="1125.3" y1="1405.4" x2="1131.0" y2="1405.4" stroke="#f2f2f2" stroke-width="1.3" />
<text x="1134.5" y="1411.2" font-size="14.9" fill="#10305a" font-weight="normal" text-anchor="start" >200</text>
<line x1="1125.3" y1="1321.6" x2="1131.0" y2="1321.6" stroke="#f2f2f2" stroke-width="1.3" />
<text x="1134.5" y="1327.4" font-size="14.9" fill="#10305a" font-weight="normal" text-anchor="start" >300</text>
<line x1="382.8" y1="1573.0" x2="382.8" y2="1576.0" stroke="#f2f2f2" stroke-width="1.2" />
<line x1="446.5" y1="1573.0" x2="446.5" y2="1579.5" stroke="#f2f2f2" stroke-width="1.4" />
<text x="446.5" y="1596.3" font-size="14.7" fill="#10305a" font-weight="normal" text-anchor="middle" >2016</text>
<line x1="510.3" y1="1573.0" x2="510.3" y2="1576.0" stroke="#f2f2f2" stroke-width="1.2" />
<line x1="573.9" y1="1573.0" x2="573.9" y2="1579.5" stroke="#f2f2f2" stroke-width="1.4" />
<text x="573.9" y="1596.3" font-size="14.7" fill="#10305a" font-weight="normal" text-anchor="middle" >2018</text>
<line x1="637.6" y1="1573.0" x2="637.6" y2="1576.0" stroke="#f2f2f2" stroke-width="1.2" />
<line x1="701.3" y1="1573.0" x2="701.3" y2="1579.5" stroke="#f2f2f2" stroke-width="1.4" />
<text x="701.3" y="1596.3" font-size="14.7" fill="#10305a" font-weight="normal" text-anchor="middle" >2020</text>
<line x1="765.1" y1="1573.0" x2="765.1" y2="1576.0" stroke="#f2f2f2" stroke-width="1.2" />
<line x1="828.7" y1="1573.0" x2="828.7" y2="1579.5" stroke="#f2f2f2" stroke-width="1.4" />
<text x="828.7" y="1596.3" font-size="14.7" fill="#10305a" font-weight="normal" text-anchor="middle" >2022</text>
<line x1="892.4" y1="1573.0" x2="892.4" y2="1576.0" stroke="#f2f2f2" stroke-width="1.2" />
<line x1="956.1" y1="1573.0" x2="956.1" y2="1579.5" stroke="#f2f2f2" stroke-width="1.4" />
<text x="956.1" y="1596.3" font-size="14.7" fill="#10305a" font-weight="normal" text-anchor="middle" >2024</text>
<line x1="1019.9" y1="1573.0" x2="1019.9" y2="1576.0" stroke="#f2f2f2" stroke-width="1.2" />
<line x1="1083.5" y1="1573.0" x2="1083.5" y2="1579.5" stroke="#f2f2f2" stroke-width="1.4" />
<text x="1083.5" y="1596.3" font-size="14.7" fill="#10305a" font-weight="normal" text-anchor="middle" >2026</text>
<text transform="translate(299,1428) rotate(-90)" font-size="14.7" fill="#10305a" text-anchor="middle">Closed Sales</text>
<text transform="translate(1181,1428) rotate(-90)" font-size="14.7" fill="#10305a" text-anchor="middle">Active Listings</text>
<polyline points="383.6,1369.5 389.0,1366.2 393.9,1359.5 399.3,1331.0 404.5,1335.2 409.9,1340.2 415.2,1337.7 420.6,1337.7 426.0,1341.9 431.2,1345.2 436.6,1358.6 441.8,1369.5 447.3,1354.4 452.7,1362.8 457.7,1354.4 463.1,1345.2 468.4,1350.3 473.8,1353.6 479.0,1369.5 484.4,1364.5 489.8,1362.0 495.0,1381.3 500.4,1382.1 505.7,1378.7 511.1,1393.8 516.5,1383.8 521.4,1410.6 526.8,1413.1 532.0,1396.3 537.4,1383.8 542.7,1379.6 548.1,1376.2 553.5,1377.1 558.7,1373.7 564.1,1372.9 569.3,1382.1 574.7,1388.0 580.1,1398.9 585.0,1411.4 590.4,1424.0 595.7,1410.6 601.1,1407.2 606.3,1412.3 611.7,1392.2 617.1,1377.1 622.4,1383.8 627.8,1406.4 633.0,1419.8 638.4,1427.3 643.8,1439.9 648.7,1453.3 654.1,1433.2 659.3,1438.2 664.7,1433.2 670.0,1428.2 675.4,1429.9 680.8,1426.5 686.0,1429.0 691.4,1427.3 696.6,1438.2 702.1,1448.3 707.5,1444.1 712.5,1434.1 717.9,1450.0 723.2,1472.6 728.6,1485.2 733.8,1481.0 739.2,1492.7 744.6,1484.3 749.8,1498.6 755.2,1507.0 760.5,1509.5 765.9,1524.6 771.3,1527.9 776.2,1524.6 781.6,1519.5 786.8,1529.6 792.2,1509.5 797.5,1501.1 802.9,1498.6 808.3,1497.7 813.5,1504.4 818.9,1505.3 824.1,1512.0 829.5,1525.4 834.9,1534.6 839.8,1523.7 845.2,1505.3 850.5,1485.2 855.9,1455.8 861.1,1434.1 866.5,1416.5 871.9,1401.4 877.2,1388.0 882.6,1397.2 887.8,1381.3 893.2,1396.3 898.6,1406.4 903.5,1424.0 908.9,1437.4 914.1,1421.5 919.5,1402.2 924.8,1388.0 930.2,1372.0 935.6,1357.0 940.8,1347.7 946.2,1349.4 951.4,1356.1 956.9,1362.0 962.3,1361.1 967.3,1354.4 972.7,1346.1 978.0,1337.7 983.4,1317.6 988.6,1326.0 994.0,1331.8 999.4,1327.6 1004.6,1325.1 1010.0,1328.5 1015.3,1345.2 1020.7,1341.9 1026.1,1344.4 1031.0,1325.1 1036.4,1310.9 1041.6,1314.2 1047.0,1310.9 1052.2,1322.6 1057.7,1303.3 1063.1,1315.1 1068.3,1312.5 1073.7,1322.6 1078.9,1331.0 1084.3,1334.3" fill="none" stroke="#7a0000" stroke-width="5.9" stroke-linejoin="round" stroke-linecap="round" />
<rect x="363.3" y="1290.4" width="17.3" height="17.3" fill="#7a0000" />
<text x="386.2" y="1304.3" font-size="15" fill="#10305a" font-weight="normal" text-anchor="start" >Active Listings</text>
<rect x="513.5" y="1290.4" width="17.3" height="17.3" fill="#0070c0" />
<text x="536.3" y="1304.3" font-size="15" fill="#10305a" font-weight="normal" text-anchor="start" >Closed Sales</text>
</svg></body></html>
